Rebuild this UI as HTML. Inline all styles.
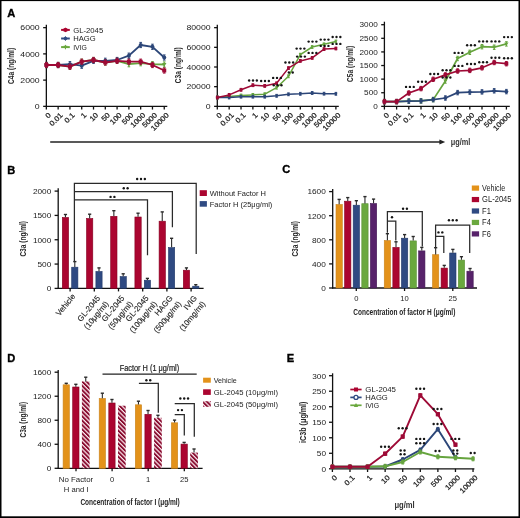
<!DOCTYPE html>
<html><head><meta charset="utf-8"><title>Figure</title>
<style>
html,body{margin:0;padding:0;background:#fff;}
body{width:520px;height:518px;overflow:hidden;}
svg{display:block;font-family:"Liberation Sans",sans-serif;will-change:transform;}
</style></head><body>
<svg width="520" height="518" viewBox="0 0 520 518">
<defs>
<pattern id="hatch" patternUnits="userSpaceOnUse" width="3.08" height="3.08" patternTransform="rotate(-45)">
<rect x="0" y="0" width="3.08" height="3.08" fill="#fbe6ec"/>
<rect x="0" y="0" width="1.85" height="3.08" fill="#870a2e"/>
</pattern>
</defs>
<rect x="0" y="0" width="520" height="518" fill="#fff"/>
<rect x="0" y="0" width="520" height="1.1" fill="#000"/>
<rect x="0" y="0" width="1.5" height="518" fill="#000"/>
<rect x="518.5" y="0" width="1.5" height="518" fill="#000"/>
<rect x="0" y="516.3" width="520" height="1.7" fill="#000"/>
<text x="7.2" y="17" font-size="11.1" fill="#000" stroke="#000" stroke-width="0.35" font-weight="bold">A</text>
<text x="7.2" y="173.6" font-size="11.1" fill="#000" stroke="#000" stroke-width="0.35" font-weight="bold">B</text>
<text x="282.2" y="173.2" font-size="11.1" fill="#000" stroke="#000" stroke-width="0.35" font-weight="bold">C</text>
<text x="7.2" y="361.9" font-size="11.1" fill="#000" stroke="#000" stroke-width="0.35" font-weight="bold">D</text>
<text x="286.8" y="361.9" font-size="11.1" fill="#000" stroke="#000" stroke-width="0.35" font-weight="bold">E</text>
<line x1="46.35" y1="24.65" x2="46.35" y2="106.95" stroke="#111" stroke-width="1.3"/>
<line x1="45.75" y1="106.35" x2="167.3" y2="106.35" stroke="#111" stroke-width="1.3"/>
<line x1="43.15" y1="106.35" x2="46.35" y2="106.35" stroke="#111" stroke-width="1.3"/>
<text x="39.75" y="109.16" font-size="7.8" fill="#222" text-anchor="end" textLength="4.86" lengthAdjust="spacingAndGlyphs">0</text>
<line x1="43.15" y1="80.12" x2="46.35" y2="80.12" stroke="#111" stroke-width="1.3"/>
<text x="39.75" y="82.92" font-size="7.8" fill="#222" text-anchor="end" textLength="19.43" lengthAdjust="spacingAndGlyphs">2000</text>
<line x1="43.15" y1="53.88" x2="46.35" y2="53.88" stroke="#111" stroke-width="1.3"/>
<text x="39.75" y="56.69" font-size="7.8" fill="#222" text-anchor="end" textLength="19.43" lengthAdjust="spacingAndGlyphs">4000</text>
<line x1="43.15" y1="27.65" x2="46.35" y2="27.65" stroke="#111" stroke-width="1.3"/>
<text x="39.75" y="30.46" font-size="7.8" fill="#222" text-anchor="end" textLength="19.43" lengthAdjust="spacingAndGlyphs">6000</text>
<line x1="46.35" y1="106.35" x2="46.35" y2="109.55" stroke="#111" stroke-width="1.3"/>
<line x1="58.14" y1="106.35" x2="58.14" y2="109.55" stroke="#111" stroke-width="1.3"/>
<line x1="69.93" y1="106.35" x2="69.93" y2="109.55" stroke="#111" stroke-width="1.3"/>
<line x1="81.72" y1="106.35" x2="81.72" y2="109.55" stroke="#111" stroke-width="1.3"/>
<line x1="93.51" y1="106.35" x2="93.51" y2="109.55" stroke="#111" stroke-width="1.3"/>
<line x1="105.3" y1="106.35" x2="105.3" y2="109.55" stroke="#111" stroke-width="1.3"/>
<line x1="117.09" y1="106.35" x2="117.09" y2="109.55" stroke="#111" stroke-width="1.3"/>
<line x1="128.88" y1="106.35" x2="128.88" y2="109.55" stroke="#111" stroke-width="1.3"/>
<line x1="140.67" y1="106.35" x2="140.67" y2="109.55" stroke="#111" stroke-width="1.3"/>
<line x1="152.46" y1="106.35" x2="152.46" y2="109.55" stroke="#111" stroke-width="1.3"/>
<line x1="164.25" y1="106.35" x2="164.25" y2="109.55" stroke="#111" stroke-width="1.3"/>
<text transform="translate(51.45,115.65) rotate(-45)" font-size="7.2" fill="#222" stroke="#222" stroke-width="0.25" text-anchor="end" textLength="4.4" lengthAdjust="spacingAndGlyphs">0</text>
<text transform="translate(63.24,115.65) rotate(-45)" font-size="7.2" fill="#222" stroke="#222" stroke-width="0.25" text-anchor="end" textLength="15.41" lengthAdjust="spacingAndGlyphs">0.01</text>
<text transform="translate(75.03,115.65) rotate(-45)" font-size="7.2" fill="#222" stroke="#222" stroke-width="0.25" text-anchor="end" textLength="11.01" lengthAdjust="spacingAndGlyphs">0.1</text>
<text transform="translate(86.82,115.65) rotate(-45)" font-size="7.2" fill="#222" stroke="#222" stroke-width="0.25" text-anchor="end" textLength="4.4" lengthAdjust="spacingAndGlyphs">1</text>
<text transform="translate(98.61,115.65) rotate(-45)" font-size="7.2" fill="#222" stroke="#222" stroke-width="0.25" text-anchor="end" textLength="8.81" lengthAdjust="spacingAndGlyphs">10</text>
<text transform="translate(110.4,115.65) rotate(-45)" font-size="7.2" fill="#222" stroke="#222" stroke-width="0.25" text-anchor="end" textLength="8.81" lengthAdjust="spacingAndGlyphs">50</text>
<text transform="translate(122.19,115.65) rotate(-45)" font-size="7.2" fill="#222" stroke="#222" stroke-width="0.25" text-anchor="end" textLength="13.21" lengthAdjust="spacingAndGlyphs">100</text>
<text transform="translate(133.98,115.65) rotate(-45)" font-size="7.2" fill="#222" stroke="#222" stroke-width="0.25" text-anchor="end" textLength="13.21" lengthAdjust="spacingAndGlyphs">500</text>
<text transform="translate(145.77,115.65) rotate(-45)" font-size="7.2" fill="#222" stroke="#222" stroke-width="0.25" text-anchor="end" textLength="17.61" lengthAdjust="spacingAndGlyphs">1000</text>
<text transform="translate(157.56,115.65) rotate(-45)" font-size="7.2" fill="#222" stroke="#222" stroke-width="0.25" text-anchor="end" textLength="17.61" lengthAdjust="spacingAndGlyphs">5000</text>
<text transform="translate(169.35,115.65) rotate(-45)" font-size="7.2" fill="#222" stroke="#222" stroke-width="0.25" text-anchor="end" textLength="22.02" lengthAdjust="spacingAndGlyphs">10000</text>
<text transform="translate(14.4,65.9) rotate(-90)" font-size="8.4" fill="#2a2a2a" text-anchor="middle" font-weight="bold" textLength="36" lengthAdjust="spacingAndGlyphs">C4a (ng/ml)</text>
<polyline points="46.35,65 58.14,65 69.93,66.7 81.72,61.7 93.51,60 105.3,62.5 117.09,60.8 128.88,64.2 140.67,63.2 152.46,64.2 164.25,64.5" fill="none" stroke="#66a43e" stroke-width="1.8" stroke-linejoin="round"/>
<line x1="46.35" y1="62.4" x2="46.35" y2="67.6" stroke="#66a43e" stroke-width="1.1"/>
<line x1="45.05" y1="62.4" x2="47.65" y2="62.4" stroke="#66a43e" stroke-width="1"/>
<line x1="45.05" y1="67.6" x2="47.65" y2="67.6" stroke="#66a43e" stroke-width="1"/>
<polygon points="44.15,63.4 48.55,63.4 46.35,67.2" fill="#66a43e"/>
<line x1="58.14" y1="62.4" x2="58.14" y2="67.6" stroke="#66a43e" stroke-width="1.1"/>
<line x1="56.84" y1="62.4" x2="59.44" y2="62.4" stroke="#66a43e" stroke-width="1"/>
<line x1="56.84" y1="67.6" x2="59.44" y2="67.6" stroke="#66a43e" stroke-width="1"/>
<polygon points="55.94,63.4 60.34,63.4 58.14,67.2" fill="#66a43e"/>
<line x1="69.93" y1="64.1" x2="69.93" y2="69.3" stroke="#66a43e" stroke-width="1.1"/>
<line x1="68.63" y1="64.1" x2="71.23" y2="64.1" stroke="#66a43e" stroke-width="1"/>
<line x1="68.63" y1="69.3" x2="71.23" y2="69.3" stroke="#66a43e" stroke-width="1"/>
<polygon points="67.73,65.1 72.13,65.1 69.93,68.9" fill="#66a43e"/>
<line x1="81.72" y1="59.1" x2="81.72" y2="64.3" stroke="#66a43e" stroke-width="1.1"/>
<line x1="80.42" y1="59.1" x2="83.02" y2="59.1" stroke="#66a43e" stroke-width="1"/>
<line x1="80.42" y1="64.3" x2="83.02" y2="64.3" stroke="#66a43e" stroke-width="1"/>
<polygon points="79.52,60.1 83.92,60.1 81.72,63.9" fill="#66a43e"/>
<line x1="93.51" y1="57.4" x2="93.51" y2="62.6" stroke="#66a43e" stroke-width="1.1"/>
<line x1="92.21" y1="57.4" x2="94.81" y2="57.4" stroke="#66a43e" stroke-width="1"/>
<line x1="92.21" y1="62.6" x2="94.81" y2="62.6" stroke="#66a43e" stroke-width="1"/>
<polygon points="91.31,58.4 95.71,58.4 93.51,62.2" fill="#66a43e"/>
<line x1="105.3" y1="59.9" x2="105.3" y2="65.1" stroke="#66a43e" stroke-width="1.1"/>
<line x1="104" y1="59.9" x2="106.6" y2="59.9" stroke="#66a43e" stroke-width="1"/>
<line x1="104" y1="65.1" x2="106.6" y2="65.1" stroke="#66a43e" stroke-width="1"/>
<polygon points="103.1,60.9 107.5,60.9 105.3,64.7" fill="#66a43e"/>
<line x1="117.09" y1="58.2" x2="117.09" y2="63.4" stroke="#66a43e" stroke-width="1.1"/>
<line x1="115.79" y1="58.2" x2="118.39" y2="58.2" stroke="#66a43e" stroke-width="1"/>
<line x1="115.79" y1="63.4" x2="118.39" y2="63.4" stroke="#66a43e" stroke-width="1"/>
<polygon points="114.89,59.2 119.29,59.2 117.09,63" fill="#66a43e"/>
<line x1="128.88" y1="61.6" x2="128.88" y2="66.8" stroke="#66a43e" stroke-width="1.1"/>
<line x1="127.58" y1="61.6" x2="130.18" y2="61.6" stroke="#66a43e" stroke-width="1"/>
<line x1="127.58" y1="66.8" x2="130.18" y2="66.8" stroke="#66a43e" stroke-width="1"/>
<polygon points="126.68,62.6 131.08,62.6 128.88,66.4" fill="#66a43e"/>
<line x1="140.67" y1="60.6" x2="140.67" y2="65.8" stroke="#66a43e" stroke-width="1.1"/>
<line x1="139.37" y1="60.6" x2="141.97" y2="60.6" stroke="#66a43e" stroke-width="1"/>
<line x1="139.37" y1="65.8" x2="141.97" y2="65.8" stroke="#66a43e" stroke-width="1"/>
<polygon points="138.47,61.6 142.87,61.6 140.67,65.4" fill="#66a43e"/>
<line x1="152.46" y1="61.6" x2="152.46" y2="66.8" stroke="#66a43e" stroke-width="1.1"/>
<line x1="151.16" y1="61.6" x2="153.76" y2="61.6" stroke="#66a43e" stroke-width="1"/>
<line x1="151.16" y1="66.8" x2="153.76" y2="66.8" stroke="#66a43e" stroke-width="1"/>
<polygon points="150.26,62.6 154.66,62.6 152.46,66.4" fill="#66a43e"/>
<line x1="164.25" y1="61.9" x2="164.25" y2="67.1" stroke="#66a43e" stroke-width="1.1"/>
<line x1="162.95" y1="61.9" x2="165.55" y2="61.9" stroke="#66a43e" stroke-width="1"/>
<line x1="162.95" y1="67.1" x2="165.55" y2="67.1" stroke="#66a43e" stroke-width="1"/>
<polygon points="162.05,62.9 166.45,62.9 164.25,66.7" fill="#66a43e"/>
<polyline points="46.35,65 58.14,65 69.93,64.2 81.72,65.7 93.51,60.8 105.3,60.8 117.09,60 128.88,55.7 140.67,45 152.46,46.8 164.25,57.5" fill="none" stroke="#2c4678" stroke-width="1.8" stroke-linejoin="round"/>
<line x1="46.35" y1="62.4" x2="46.35" y2="67.6" stroke="#2c4678" stroke-width="1.1"/>
<line x1="45.05" y1="62.4" x2="47.65" y2="62.4" stroke="#2c4678" stroke-width="1"/>
<line x1="45.05" y1="67.6" x2="47.65" y2="67.6" stroke="#2c4678" stroke-width="1"/>
<circle cx="46.35" cy="65" r="2" fill="#2c4678"/>
<line x1="58.14" y1="62.4" x2="58.14" y2="67.6" stroke="#2c4678" stroke-width="1.1"/>
<line x1="56.84" y1="62.4" x2="59.44" y2="62.4" stroke="#2c4678" stroke-width="1"/>
<line x1="56.84" y1="67.6" x2="59.44" y2="67.6" stroke="#2c4678" stroke-width="1"/>
<circle cx="58.14" cy="65" r="2" fill="#2c4678"/>
<line x1="69.93" y1="61.6" x2="69.93" y2="66.8" stroke="#2c4678" stroke-width="1.1"/>
<line x1="68.63" y1="61.6" x2="71.23" y2="61.6" stroke="#2c4678" stroke-width="1"/>
<line x1="68.63" y1="66.8" x2="71.23" y2="66.8" stroke="#2c4678" stroke-width="1"/>
<circle cx="69.93" cy="64.2" r="2" fill="#2c4678"/>
<line x1="81.72" y1="63.1" x2="81.72" y2="68.3" stroke="#2c4678" stroke-width="1.1"/>
<line x1="80.42" y1="63.1" x2="83.02" y2="63.1" stroke="#2c4678" stroke-width="1"/>
<line x1="80.42" y1="68.3" x2="83.02" y2="68.3" stroke="#2c4678" stroke-width="1"/>
<circle cx="81.72" cy="65.7" r="2" fill="#2c4678"/>
<line x1="93.51" y1="58.2" x2="93.51" y2="63.4" stroke="#2c4678" stroke-width="1.1"/>
<line x1="92.21" y1="58.2" x2="94.81" y2="58.2" stroke="#2c4678" stroke-width="1"/>
<line x1="92.21" y1="63.4" x2="94.81" y2="63.4" stroke="#2c4678" stroke-width="1"/>
<circle cx="93.51" cy="60.8" r="2" fill="#2c4678"/>
<line x1="105.3" y1="58.2" x2="105.3" y2="63.4" stroke="#2c4678" stroke-width="1.1"/>
<line x1="104" y1="58.2" x2="106.6" y2="58.2" stroke="#2c4678" stroke-width="1"/>
<line x1="104" y1="63.4" x2="106.6" y2="63.4" stroke="#2c4678" stroke-width="1"/>
<circle cx="105.3" cy="60.8" r="2" fill="#2c4678"/>
<line x1="117.09" y1="57.4" x2="117.09" y2="62.6" stroke="#2c4678" stroke-width="1.1"/>
<line x1="115.79" y1="57.4" x2="118.39" y2="57.4" stroke="#2c4678" stroke-width="1"/>
<line x1="115.79" y1="62.6" x2="118.39" y2="62.6" stroke="#2c4678" stroke-width="1"/>
<circle cx="117.09" cy="60" r="2" fill="#2c4678"/>
<line x1="128.88" y1="53.1" x2="128.88" y2="58.3" stroke="#2c4678" stroke-width="1.1"/>
<line x1="127.58" y1="53.1" x2="130.18" y2="53.1" stroke="#2c4678" stroke-width="1"/>
<line x1="127.58" y1="58.3" x2="130.18" y2="58.3" stroke="#2c4678" stroke-width="1"/>
<circle cx="128.88" cy="55.7" r="2" fill="#2c4678"/>
<line x1="140.67" y1="42.4" x2="140.67" y2="47.6" stroke="#2c4678" stroke-width="1.1"/>
<line x1="139.37" y1="42.4" x2="141.97" y2="42.4" stroke="#2c4678" stroke-width="1"/>
<line x1="139.37" y1="47.6" x2="141.97" y2="47.6" stroke="#2c4678" stroke-width="1"/>
<circle cx="140.67" cy="45" r="2" fill="#2c4678"/>
<line x1="152.46" y1="44.2" x2="152.46" y2="49.4" stroke="#2c4678" stroke-width="1.1"/>
<line x1="151.16" y1="44.2" x2="153.76" y2="44.2" stroke="#2c4678" stroke-width="1"/>
<line x1="151.16" y1="49.4" x2="153.76" y2="49.4" stroke="#2c4678" stroke-width="1"/>
<circle cx="152.46" cy="46.8" r="2" fill="#2c4678"/>
<line x1="164.25" y1="54.9" x2="164.25" y2="60.1" stroke="#2c4678" stroke-width="1.1"/>
<line x1="162.95" y1="54.9" x2="165.55" y2="54.9" stroke="#2c4678" stroke-width="1"/>
<line x1="162.95" y1="60.1" x2="165.55" y2="60.1" stroke="#2c4678" stroke-width="1"/>
<circle cx="164.25" cy="57.5" r="2" fill="#2c4678"/>
<polyline points="46.35,65 58.14,65 69.93,66.7 81.72,61.7 93.51,60 105.3,62.5 117.09,60.8 128.88,61.7 140.67,61.7 152.46,65 164.25,70.5" fill="none" stroke="#9e0a36" stroke-width="1.8" stroke-linejoin="round"/>
<line x1="46.35" y1="62.4" x2="46.35" y2="67.6" stroke="#9e0a36" stroke-width="1.1"/>
<line x1="45.05" y1="62.4" x2="47.65" y2="62.4" stroke="#9e0a36" stroke-width="1"/>
<line x1="45.05" y1="67.6" x2="47.65" y2="67.6" stroke="#9e0a36" stroke-width="1"/>
<rect x="44.35" y="63" width="4" height="4" fill="#9e0a36"/>
<line x1="58.14" y1="62.4" x2="58.14" y2="67.6" stroke="#9e0a36" stroke-width="1.1"/>
<line x1="56.84" y1="62.4" x2="59.44" y2="62.4" stroke="#9e0a36" stroke-width="1"/>
<line x1="56.84" y1="67.6" x2="59.44" y2="67.6" stroke="#9e0a36" stroke-width="1"/>
<rect x="56.14" y="63" width="4" height="4" fill="#9e0a36"/>
<line x1="69.93" y1="64.1" x2="69.93" y2="69.3" stroke="#9e0a36" stroke-width="1.1"/>
<line x1="68.63" y1="64.1" x2="71.23" y2="64.1" stroke="#9e0a36" stroke-width="1"/>
<line x1="68.63" y1="69.3" x2="71.23" y2="69.3" stroke="#9e0a36" stroke-width="1"/>
<rect x="67.93" y="64.7" width="4" height="4" fill="#9e0a36"/>
<line x1="81.72" y1="59.1" x2="81.72" y2="64.3" stroke="#9e0a36" stroke-width="1.1"/>
<line x1="80.42" y1="59.1" x2="83.02" y2="59.1" stroke="#9e0a36" stroke-width="1"/>
<line x1="80.42" y1="64.3" x2="83.02" y2="64.3" stroke="#9e0a36" stroke-width="1"/>
<rect x="79.72" y="59.7" width="4" height="4" fill="#9e0a36"/>
<line x1="93.51" y1="57.4" x2="93.51" y2="62.6" stroke="#9e0a36" stroke-width="1.1"/>
<line x1="92.21" y1="57.4" x2="94.81" y2="57.4" stroke="#9e0a36" stroke-width="1"/>
<line x1="92.21" y1="62.6" x2="94.81" y2="62.6" stroke="#9e0a36" stroke-width="1"/>
<rect x="91.51" y="58" width="4" height="4" fill="#9e0a36"/>
<line x1="105.3" y1="59.9" x2="105.3" y2="65.1" stroke="#9e0a36" stroke-width="1.1"/>
<line x1="104" y1="59.9" x2="106.6" y2="59.9" stroke="#9e0a36" stroke-width="1"/>
<line x1="104" y1="65.1" x2="106.6" y2="65.1" stroke="#9e0a36" stroke-width="1"/>
<rect x="103.3" y="60.5" width="4" height="4" fill="#9e0a36"/>
<line x1="117.09" y1="58.2" x2="117.09" y2="63.4" stroke="#9e0a36" stroke-width="1.1"/>
<line x1="115.79" y1="58.2" x2="118.39" y2="58.2" stroke="#9e0a36" stroke-width="1"/>
<line x1="115.79" y1="63.4" x2="118.39" y2="63.4" stroke="#9e0a36" stroke-width="1"/>
<rect x="115.09" y="58.8" width="4" height="4" fill="#9e0a36"/>
<line x1="128.88" y1="59.1" x2="128.88" y2="64.3" stroke="#9e0a36" stroke-width="1.1"/>
<line x1="127.58" y1="59.1" x2="130.18" y2="59.1" stroke="#9e0a36" stroke-width="1"/>
<line x1="127.58" y1="64.3" x2="130.18" y2="64.3" stroke="#9e0a36" stroke-width="1"/>
<rect x="126.88" y="59.7" width="4" height="4" fill="#9e0a36"/>
<line x1="140.67" y1="59.1" x2="140.67" y2="64.3" stroke="#9e0a36" stroke-width="1.1"/>
<line x1="139.37" y1="59.1" x2="141.97" y2="59.1" stroke="#9e0a36" stroke-width="1"/>
<line x1="139.37" y1="64.3" x2="141.97" y2="64.3" stroke="#9e0a36" stroke-width="1"/>
<rect x="138.67" y="59.7" width="4" height="4" fill="#9e0a36"/>
<line x1="152.46" y1="62.4" x2="152.46" y2="67.6" stroke="#9e0a36" stroke-width="1.1"/>
<line x1="151.16" y1="62.4" x2="153.76" y2="62.4" stroke="#9e0a36" stroke-width="1"/>
<line x1="151.16" y1="67.6" x2="153.76" y2="67.6" stroke="#9e0a36" stroke-width="1"/>
<rect x="150.46" y="63" width="4" height="4" fill="#9e0a36"/>
<line x1="164.25" y1="67.9" x2="164.25" y2="73.1" stroke="#9e0a36" stroke-width="1.1"/>
<line x1="162.95" y1="67.9" x2="165.55" y2="67.9" stroke="#9e0a36" stroke-width="1"/>
<line x1="162.95" y1="73.1" x2="165.55" y2="73.1" stroke="#9e0a36" stroke-width="1"/>
<rect x="162.25" y="68.5" width="4" height="4" fill="#9e0a36"/>
<line x1="61.1" y1="29.9" x2="69.8" y2="29.9" stroke="#ab0530" stroke-width="2"/>
<rect x="63.65" y="28.1" width="3.6" height="3.6" fill="#ab0530"/>
<line x1="65.45" y1="27.7" x2="65.45" y2="32.1" stroke="#ab0530" stroke-width="1"/>
<text x="73.2" y="32.6" font-size="7.7" fill="#222" textLength="30" lengthAdjust="spacingAndGlyphs">GL-2045</text>
<line x1="61.1" y1="38.5" x2="69.8" y2="38.5" stroke="#2f4a82" stroke-width="2"/>
<circle cx="65.45" cy="38.5" r="1.8" fill="#2f4a82"/>
<line x1="65.45" y1="36.3" x2="65.45" y2="40.7" stroke="#2f4a82" stroke-width="1"/>
<text x="73.2" y="41.2" font-size="7.7" fill="#222" textLength="22.5" lengthAdjust="spacingAndGlyphs">HAGG</text>
<line x1="61.1" y1="47.1" x2="69.8" y2="47.1" stroke="#6aa83e" stroke-width="2"/>
<polygon points="63.47,45.66 67.43,45.66 65.45,49.08" fill="#6aa83e"/>
<line x1="65.45" y1="44.9" x2="65.45" y2="49.3" stroke="#6aa83e" stroke-width="1"/>
<text x="73.2" y="49.8" font-size="7.7" fill="#222" textLength="13.8" lengthAdjust="spacingAndGlyphs">IVIG</text>
<line x1="217.3" y1="24.65" x2="217.3" y2="106.95" stroke="#111" stroke-width="1.3"/>
<line x1="216.7" y1="106.35" x2="338.8" y2="106.35" stroke="#111" stroke-width="1.3"/>
<line x1="214.1" y1="106.35" x2="217.3" y2="106.35" stroke="#111" stroke-width="1.3"/>
<text x="210.7" y="109.16" font-size="7.8" fill="#222" text-anchor="end" textLength="4.86" lengthAdjust="spacingAndGlyphs">0</text>
<line x1="214.1" y1="86.67" x2="217.3" y2="86.67" stroke="#111" stroke-width="1.3"/>
<text x="210.7" y="89.48" font-size="7.8" fill="#222" text-anchor="end" textLength="24.29" lengthAdjust="spacingAndGlyphs">20000</text>
<line x1="214.1" y1="67" x2="217.3" y2="67" stroke="#111" stroke-width="1.3"/>
<text x="210.7" y="69.81" font-size="7.8" fill="#222" text-anchor="end" textLength="24.29" lengthAdjust="spacingAndGlyphs">40000</text>
<line x1="214.1" y1="47.33" x2="217.3" y2="47.33" stroke="#111" stroke-width="1.3"/>
<text x="210.7" y="50.13" font-size="7.8" fill="#222" text-anchor="end" textLength="24.29" lengthAdjust="spacingAndGlyphs">60000</text>
<line x1="214.1" y1="27.65" x2="217.3" y2="27.65" stroke="#111" stroke-width="1.3"/>
<text x="210.7" y="30.46" font-size="7.8" fill="#222" text-anchor="end" textLength="24.29" lengthAdjust="spacingAndGlyphs">80000</text>
<line x1="217.3" y1="106.35" x2="217.3" y2="109.55" stroke="#111" stroke-width="1.3"/>
<line x1="229.16" y1="106.35" x2="229.16" y2="109.55" stroke="#111" stroke-width="1.3"/>
<line x1="241.02" y1="106.35" x2="241.02" y2="109.55" stroke="#111" stroke-width="1.3"/>
<line x1="252.88" y1="106.35" x2="252.88" y2="109.55" stroke="#111" stroke-width="1.3"/>
<line x1="264.74" y1="106.35" x2="264.74" y2="109.55" stroke="#111" stroke-width="1.3"/>
<line x1="276.6" y1="106.35" x2="276.6" y2="109.55" stroke="#111" stroke-width="1.3"/>
<line x1="288.46" y1="106.35" x2="288.46" y2="109.55" stroke="#111" stroke-width="1.3"/>
<line x1="300.32" y1="106.35" x2="300.32" y2="109.55" stroke="#111" stroke-width="1.3"/>
<line x1="312.18" y1="106.35" x2="312.18" y2="109.55" stroke="#111" stroke-width="1.3"/>
<line x1="324.04" y1="106.35" x2="324.04" y2="109.55" stroke="#111" stroke-width="1.3"/>
<line x1="335.9" y1="106.35" x2="335.9" y2="109.55" stroke="#111" stroke-width="1.3"/>
<text transform="translate(222.4,115.65) rotate(-45)" font-size="7.2" fill="#222" stroke="#222" stroke-width="0.25" text-anchor="end" textLength="4.4" lengthAdjust="spacingAndGlyphs">0</text>
<text transform="translate(234.26,115.65) rotate(-45)" font-size="7.2" fill="#222" stroke="#222" stroke-width="0.25" text-anchor="end" textLength="15.41" lengthAdjust="spacingAndGlyphs">0.01</text>
<text transform="translate(246.12,115.65) rotate(-45)" font-size="7.2" fill="#222" stroke="#222" stroke-width="0.25" text-anchor="end" textLength="11.01" lengthAdjust="spacingAndGlyphs">0.1</text>
<text transform="translate(257.98,115.65) rotate(-45)" font-size="7.2" fill="#222" stroke="#222" stroke-width="0.25" text-anchor="end" textLength="4.4" lengthAdjust="spacingAndGlyphs">1</text>
<text transform="translate(269.84,115.65) rotate(-45)" font-size="7.2" fill="#222" stroke="#222" stroke-width="0.25" text-anchor="end" textLength="8.81" lengthAdjust="spacingAndGlyphs">10</text>
<text transform="translate(281.7,115.65) rotate(-45)" font-size="7.2" fill="#222" stroke="#222" stroke-width="0.25" text-anchor="end" textLength="8.81" lengthAdjust="spacingAndGlyphs">50</text>
<text transform="translate(293.56,115.65) rotate(-45)" font-size="7.2" fill="#222" stroke="#222" stroke-width="0.25" text-anchor="end" textLength="13.21" lengthAdjust="spacingAndGlyphs">100</text>
<text transform="translate(305.42,115.65) rotate(-45)" font-size="7.2" fill="#222" stroke="#222" stroke-width="0.25" text-anchor="end" textLength="13.21" lengthAdjust="spacingAndGlyphs">500</text>
<text transform="translate(317.28,115.65) rotate(-45)" font-size="7.2" fill="#222" stroke="#222" stroke-width="0.25" text-anchor="end" textLength="17.61" lengthAdjust="spacingAndGlyphs">1000</text>
<text transform="translate(329.14,115.65) rotate(-45)" font-size="7.2" fill="#222" stroke="#222" stroke-width="0.25" text-anchor="end" textLength="17.61" lengthAdjust="spacingAndGlyphs">5000</text>
<text transform="translate(341,115.65) rotate(-45)" font-size="7.2" fill="#222" stroke="#222" stroke-width="0.25" text-anchor="end" textLength="22.02" lengthAdjust="spacingAndGlyphs">10000</text>
<text transform="translate(181.3,65.2) rotate(-90)" font-size="8.4" fill="#2a2a2a" text-anchor="middle" font-weight="bold" textLength="36" lengthAdjust="spacingAndGlyphs">C3a (ng/ml)</text>
<polyline points="217.3,97.5 229.16,96.4 241.02,95.5 252.88,94.9 264.74,94.2 276.6,87.7 288.46,76.3 300.32,54.7 312.18,47 324.04,44.3 335.9,41.5" fill="none" stroke="#66a43e" stroke-width="1.5" stroke-linejoin="round"/>
<line x1="217.3" y1="96.1" x2="217.3" y2="98.9" stroke="#66a43e" stroke-width="1.1"/>
<line x1="216" y1="96.1" x2="218.6" y2="96.1" stroke="#66a43e" stroke-width="1"/>
<line x1="216" y1="98.9" x2="218.6" y2="98.9" stroke="#66a43e" stroke-width="1"/>
<polygon points="215.76,96.38 218.84,96.38 217.3,99.04" fill="#66a43e"/>
<line x1="229.16" y1="95" x2="229.16" y2="97.8" stroke="#66a43e" stroke-width="1.1"/>
<line x1="227.86" y1="95" x2="230.46" y2="95" stroke="#66a43e" stroke-width="1"/>
<line x1="227.86" y1="97.8" x2="230.46" y2="97.8" stroke="#66a43e" stroke-width="1"/>
<polygon points="227.62,95.28 230.7,95.28 229.16,97.94" fill="#66a43e"/>
<line x1="241.02" y1="94.1" x2="241.02" y2="96.9" stroke="#66a43e" stroke-width="1.1"/>
<line x1="239.72" y1="94.1" x2="242.32" y2="94.1" stroke="#66a43e" stroke-width="1"/>
<line x1="239.72" y1="96.9" x2="242.32" y2="96.9" stroke="#66a43e" stroke-width="1"/>
<polygon points="239.48,94.38 242.56,94.38 241.02,97.04" fill="#66a43e"/>
<line x1="252.88" y1="93.5" x2="252.88" y2="96.3" stroke="#66a43e" stroke-width="1.1"/>
<line x1="251.58" y1="93.5" x2="254.18" y2="93.5" stroke="#66a43e" stroke-width="1"/>
<line x1="251.58" y1="96.3" x2="254.18" y2="96.3" stroke="#66a43e" stroke-width="1"/>
<polygon points="251.34,93.78 254.42,93.78 252.88,96.44" fill="#66a43e"/>
<line x1="264.74" y1="92.8" x2="264.74" y2="95.6" stroke="#66a43e" stroke-width="1.1"/>
<line x1="263.44" y1="92.8" x2="266.04" y2="92.8" stroke="#66a43e" stroke-width="1"/>
<line x1="263.44" y1="95.6" x2="266.04" y2="95.6" stroke="#66a43e" stroke-width="1"/>
<polygon points="263.2,93.08 266.28,93.08 264.74,95.74" fill="#66a43e"/>
<line x1="276.6" y1="86.3" x2="276.6" y2="89.1" stroke="#66a43e" stroke-width="1.1"/>
<line x1="275.3" y1="86.3" x2="277.9" y2="86.3" stroke="#66a43e" stroke-width="1"/>
<line x1="275.3" y1="89.1" x2="277.9" y2="89.1" stroke="#66a43e" stroke-width="1"/>
<polygon points="275.06,86.58 278.14,86.58 276.6,89.24" fill="#66a43e"/>
<line x1="288.46" y1="74.9" x2="288.46" y2="77.7" stroke="#66a43e" stroke-width="1.1"/>
<line x1="287.16" y1="74.9" x2="289.76" y2="74.9" stroke="#66a43e" stroke-width="1"/>
<line x1="287.16" y1="77.7" x2="289.76" y2="77.7" stroke="#66a43e" stroke-width="1"/>
<polygon points="286.92,75.18 290,75.18 288.46,77.84" fill="#66a43e"/>
<line x1="300.32" y1="53.3" x2="300.32" y2="56.1" stroke="#66a43e" stroke-width="1.1"/>
<line x1="299.02" y1="53.3" x2="301.62" y2="53.3" stroke="#66a43e" stroke-width="1"/>
<line x1="299.02" y1="56.1" x2="301.62" y2="56.1" stroke="#66a43e" stroke-width="1"/>
<polygon points="298.78,53.58 301.86,53.58 300.32,56.24" fill="#66a43e"/>
<line x1="312.18" y1="45.6" x2="312.18" y2="48.4" stroke="#66a43e" stroke-width="1.1"/>
<line x1="310.88" y1="45.6" x2="313.48" y2="45.6" stroke="#66a43e" stroke-width="1"/>
<line x1="310.88" y1="48.4" x2="313.48" y2="48.4" stroke="#66a43e" stroke-width="1"/>
<polygon points="310.64,45.88 313.72,45.88 312.18,48.54" fill="#66a43e"/>
<line x1="324.04" y1="42.9" x2="324.04" y2="45.7" stroke="#66a43e" stroke-width="1.1"/>
<line x1="322.74" y1="42.9" x2="325.34" y2="42.9" stroke="#66a43e" stroke-width="1"/>
<line x1="322.74" y1="45.7" x2="325.34" y2="45.7" stroke="#66a43e" stroke-width="1"/>
<polygon points="322.5,43.18 325.58,43.18 324.04,45.84" fill="#66a43e"/>
<line x1="335.9" y1="40.1" x2="335.9" y2="42.9" stroke="#66a43e" stroke-width="1.1"/>
<line x1="334.6" y1="40.1" x2="337.2" y2="40.1" stroke="#66a43e" stroke-width="1"/>
<line x1="334.6" y1="42.9" x2="337.2" y2="42.9" stroke="#66a43e" stroke-width="1"/>
<polygon points="334.36,40.38 337.44,40.38 335.9,43.04" fill="#66a43e"/>
<polyline points="217.3,97.5 229.16,97.5 241.02,96.7 252.88,96.7 264.74,96.7 276.6,95.8 288.46,94.3 300.32,93.8 312.18,93 324.04,93.7 335.9,93.8" fill="none" stroke="#2c4678" stroke-width="1.5" stroke-linejoin="round"/>
<line x1="217.3" y1="96.1" x2="217.3" y2="98.9" stroke="#2c4678" stroke-width="1.1"/>
<line x1="216" y1="96.1" x2="218.6" y2="96.1" stroke="#2c4678" stroke-width="1"/>
<line x1="216" y1="98.9" x2="218.6" y2="98.9" stroke="#2c4678" stroke-width="1"/>
<circle cx="217.3" cy="97.5" r="1.4" fill="#2c4678"/>
<line x1="229.16" y1="96.1" x2="229.16" y2="98.9" stroke="#2c4678" stroke-width="1.1"/>
<line x1="227.86" y1="96.1" x2="230.46" y2="96.1" stroke="#2c4678" stroke-width="1"/>
<line x1="227.86" y1="98.9" x2="230.46" y2="98.9" stroke="#2c4678" stroke-width="1"/>
<circle cx="229.16" cy="97.5" r="1.4" fill="#2c4678"/>
<line x1="241.02" y1="95.3" x2="241.02" y2="98.1" stroke="#2c4678" stroke-width="1.1"/>
<line x1="239.72" y1="95.3" x2="242.32" y2="95.3" stroke="#2c4678" stroke-width="1"/>
<line x1="239.72" y1="98.1" x2="242.32" y2="98.1" stroke="#2c4678" stroke-width="1"/>
<circle cx="241.02" cy="96.7" r="1.4" fill="#2c4678"/>
<line x1="252.88" y1="95.3" x2="252.88" y2="98.1" stroke="#2c4678" stroke-width="1.1"/>
<line x1="251.58" y1="95.3" x2="254.18" y2="95.3" stroke="#2c4678" stroke-width="1"/>
<line x1="251.58" y1="98.1" x2="254.18" y2="98.1" stroke="#2c4678" stroke-width="1"/>
<circle cx="252.88" cy="96.7" r="1.4" fill="#2c4678"/>
<line x1="264.74" y1="95.3" x2="264.74" y2="98.1" stroke="#2c4678" stroke-width="1.1"/>
<line x1="263.44" y1="95.3" x2="266.04" y2="95.3" stroke="#2c4678" stroke-width="1"/>
<line x1="263.44" y1="98.1" x2="266.04" y2="98.1" stroke="#2c4678" stroke-width="1"/>
<circle cx="264.74" cy="96.7" r="1.4" fill="#2c4678"/>
<line x1="276.6" y1="94.4" x2="276.6" y2="97.2" stroke="#2c4678" stroke-width="1.1"/>
<line x1="275.3" y1="94.4" x2="277.9" y2="94.4" stroke="#2c4678" stroke-width="1"/>
<line x1="275.3" y1="97.2" x2="277.9" y2="97.2" stroke="#2c4678" stroke-width="1"/>
<circle cx="276.6" cy="95.8" r="1.4" fill="#2c4678"/>
<line x1="288.46" y1="92.9" x2="288.46" y2="95.7" stroke="#2c4678" stroke-width="1.1"/>
<line x1="287.16" y1="92.9" x2="289.76" y2="92.9" stroke="#2c4678" stroke-width="1"/>
<line x1="287.16" y1="95.7" x2="289.76" y2="95.7" stroke="#2c4678" stroke-width="1"/>
<circle cx="288.46" cy="94.3" r="1.4" fill="#2c4678"/>
<line x1="300.32" y1="92.4" x2="300.32" y2="95.2" stroke="#2c4678" stroke-width="1.1"/>
<line x1="299.02" y1="92.4" x2="301.62" y2="92.4" stroke="#2c4678" stroke-width="1"/>
<line x1="299.02" y1="95.2" x2="301.62" y2="95.2" stroke="#2c4678" stroke-width="1"/>
<circle cx="300.32" cy="93.8" r="1.4" fill="#2c4678"/>
<line x1="312.18" y1="91.6" x2="312.18" y2="94.4" stroke="#2c4678" stroke-width="1.1"/>
<line x1="310.88" y1="91.6" x2="313.48" y2="91.6" stroke="#2c4678" stroke-width="1"/>
<line x1="310.88" y1="94.4" x2="313.48" y2="94.4" stroke="#2c4678" stroke-width="1"/>
<circle cx="312.18" cy="93" r="1.4" fill="#2c4678"/>
<line x1="324.04" y1="92.3" x2="324.04" y2="95.1" stroke="#2c4678" stroke-width="1.1"/>
<line x1="322.74" y1="92.3" x2="325.34" y2="92.3" stroke="#2c4678" stroke-width="1"/>
<line x1="322.74" y1="95.1" x2="325.34" y2="95.1" stroke="#2c4678" stroke-width="1"/>
<circle cx="324.04" cy="93.7" r="1.4" fill="#2c4678"/>
<line x1="335.9" y1="92.4" x2="335.9" y2="95.2" stroke="#2c4678" stroke-width="1.1"/>
<line x1="334.6" y1="92.4" x2="337.2" y2="92.4" stroke="#2c4678" stroke-width="1"/>
<line x1="334.6" y1="95.2" x2="337.2" y2="95.2" stroke="#2c4678" stroke-width="1"/>
<circle cx="335.9" cy="93.8" r="1.4" fill="#2c4678"/>
<polyline points="217.3,97.5 229.16,94.9 241.02,89.8 252.88,85.2 264.74,85.9 276.6,83.3 288.46,68.1 300.32,60.9 312.18,57.9 324.04,49.1 335.9,48.5" fill="none" stroke="#9e0a36" stroke-width="1.5" stroke-linejoin="round"/>
<line x1="217.3" y1="96.1" x2="217.3" y2="98.9" stroke="#9e0a36" stroke-width="1.1"/>
<line x1="216" y1="96.1" x2="218.6" y2="96.1" stroke="#9e0a36" stroke-width="1"/>
<line x1="216" y1="98.9" x2="218.6" y2="98.9" stroke="#9e0a36" stroke-width="1"/>
<rect x="215.9" y="96.1" width="2.8" height="2.8" fill="#9e0a36"/>
<line x1="229.16" y1="93.5" x2="229.16" y2="96.3" stroke="#9e0a36" stroke-width="1.1"/>
<line x1="227.86" y1="93.5" x2="230.46" y2="93.5" stroke="#9e0a36" stroke-width="1"/>
<line x1="227.86" y1="96.3" x2="230.46" y2="96.3" stroke="#9e0a36" stroke-width="1"/>
<rect x="227.76" y="93.5" width="2.8" height="2.8" fill="#9e0a36"/>
<line x1="241.02" y1="88.4" x2="241.02" y2="91.2" stroke="#9e0a36" stroke-width="1.1"/>
<line x1="239.72" y1="88.4" x2="242.32" y2="88.4" stroke="#9e0a36" stroke-width="1"/>
<line x1="239.72" y1="91.2" x2="242.32" y2="91.2" stroke="#9e0a36" stroke-width="1"/>
<rect x="239.62" y="88.4" width="2.8" height="2.8" fill="#9e0a36"/>
<line x1="252.88" y1="83.8" x2="252.88" y2="86.6" stroke="#9e0a36" stroke-width="1.1"/>
<line x1="251.58" y1="83.8" x2="254.18" y2="83.8" stroke="#9e0a36" stroke-width="1"/>
<line x1="251.58" y1="86.6" x2="254.18" y2="86.6" stroke="#9e0a36" stroke-width="1"/>
<rect x="251.48" y="83.8" width="2.8" height="2.8" fill="#9e0a36"/>
<line x1="264.74" y1="84.5" x2="264.74" y2="87.3" stroke="#9e0a36" stroke-width="1.1"/>
<line x1="263.44" y1="84.5" x2="266.04" y2="84.5" stroke="#9e0a36" stroke-width="1"/>
<line x1="263.44" y1="87.3" x2="266.04" y2="87.3" stroke="#9e0a36" stroke-width="1"/>
<rect x="263.34" y="84.5" width="2.8" height="2.8" fill="#9e0a36"/>
<line x1="276.6" y1="81.9" x2="276.6" y2="84.7" stroke="#9e0a36" stroke-width="1.1"/>
<line x1="275.3" y1="81.9" x2="277.9" y2="81.9" stroke="#9e0a36" stroke-width="1"/>
<line x1="275.3" y1="84.7" x2="277.9" y2="84.7" stroke="#9e0a36" stroke-width="1"/>
<rect x="275.2" y="81.9" width="2.8" height="2.8" fill="#9e0a36"/>
<line x1="288.46" y1="66.7" x2="288.46" y2="69.5" stroke="#9e0a36" stroke-width="1.1"/>
<line x1="287.16" y1="66.7" x2="289.76" y2="66.7" stroke="#9e0a36" stroke-width="1"/>
<line x1="287.16" y1="69.5" x2="289.76" y2="69.5" stroke="#9e0a36" stroke-width="1"/>
<rect x="287.06" y="66.7" width="2.8" height="2.8" fill="#9e0a36"/>
<line x1="300.32" y1="59.5" x2="300.32" y2="62.3" stroke="#9e0a36" stroke-width="1.1"/>
<line x1="299.02" y1="59.5" x2="301.62" y2="59.5" stroke="#9e0a36" stroke-width="1"/>
<line x1="299.02" y1="62.3" x2="301.62" y2="62.3" stroke="#9e0a36" stroke-width="1"/>
<rect x="298.92" y="59.5" width="2.8" height="2.8" fill="#9e0a36"/>
<line x1="312.18" y1="56.5" x2="312.18" y2="59.3" stroke="#9e0a36" stroke-width="1.1"/>
<line x1="310.88" y1="56.5" x2="313.48" y2="56.5" stroke="#9e0a36" stroke-width="1"/>
<line x1="310.88" y1="59.3" x2="313.48" y2="59.3" stroke="#9e0a36" stroke-width="1"/>
<rect x="310.78" y="56.5" width="2.8" height="2.8" fill="#9e0a36"/>
<line x1="324.04" y1="47.7" x2="324.04" y2="50.5" stroke="#9e0a36" stroke-width="1.1"/>
<line x1="322.74" y1="47.7" x2="325.34" y2="47.7" stroke="#9e0a36" stroke-width="1"/>
<line x1="322.74" y1="50.5" x2="325.34" y2="50.5" stroke="#9e0a36" stroke-width="1"/>
<rect x="322.64" y="47.7" width="2.8" height="2.8" fill="#9e0a36"/>
<line x1="335.9" y1="47.1" x2="335.9" y2="49.9" stroke="#9e0a36" stroke-width="1.1"/>
<line x1="334.6" y1="47.1" x2="337.2" y2="47.1" stroke="#9e0a36" stroke-width="1"/>
<line x1="334.6" y1="49.9" x2="337.2" y2="49.9" stroke="#9e0a36" stroke-width="1"/>
<rect x="334.5" y="47.1" width="2.8" height="2.8" fill="#9e0a36"/>
<circle cx="249.15" cy="80.5" r="1.2" fill="#151515"/>
<circle cx="253" cy="80.5" r="1.2" fill="#151515"/>
<circle cx="256.85" cy="80.5" r="1.2" fill="#151515"/>
<circle cx="261.15" cy="81" r="1.2" fill="#151515"/>
<circle cx="265" cy="81" r="1.2" fill="#151515"/>
<circle cx="268.85" cy="81" r="1.2" fill="#151515"/>
<circle cx="273.15" cy="77.9" r="1.2" fill="#151515"/>
<circle cx="277" cy="77.9" r="1.2" fill="#151515"/>
<circle cx="280.85" cy="77.9" r="1.2" fill="#151515"/>
<circle cx="273.75" cy="85.3" r="1.2" fill="#151515"/>
<circle cx="277.6" cy="85.3" r="1.2" fill="#151515"/>
<circle cx="281.45" cy="85.3" r="1.2" fill="#151515"/>
<circle cx="285.45" cy="62.5" r="1.2" fill="#151515"/>
<circle cx="289.3" cy="62.5" r="1.2" fill="#151515"/>
<circle cx="293.15" cy="62.5" r="1.2" fill="#151515"/>
<circle cx="288.88" cy="72.5" r="1.2" fill="#151515"/>
<circle cx="292.73" cy="72.5" r="1.2" fill="#151515"/>
<circle cx="296.65" cy="48.6" r="1.2" fill="#151515"/>
<circle cx="300.5" cy="48.6" r="1.2" fill="#151515"/>
<circle cx="304.35" cy="48.6" r="1.2" fill="#151515"/>
<circle cx="297.15" cy="56.6" r="1.2" fill="#151515"/>
<circle cx="301" cy="56.6" r="1.2" fill="#151515"/>
<circle cx="304.85" cy="56.6" r="1.2" fill="#151515"/>
<circle cx="308.65" cy="41.6" r="1.2" fill="#151515"/>
<circle cx="312.5" cy="41.6" r="1.2" fill="#151515"/>
<circle cx="316.35" cy="41.6" r="1.2" fill="#151515"/>
<circle cx="308.65" cy="52.9" r="1.2" fill="#151515"/>
<circle cx="312.5" cy="52.9" r="1.2" fill="#151515"/>
<circle cx="316.35" cy="52.9" r="1.2" fill="#151515"/>
<circle cx="320.75" cy="39.6" r="1.2" fill="#151515"/>
<circle cx="324.6" cy="39.6" r="1.2" fill="#151515"/>
<circle cx="328.45" cy="39.6" r="1.2" fill="#151515"/>
<circle cx="320.75" cy="45.9" r="1.2" fill="#151515"/>
<circle cx="324.6" cy="45.9" r="1.2" fill="#151515"/>
<circle cx="328.45" cy="45.9" r="1.2" fill="#151515"/>
<circle cx="332.65" cy="37" r="1.2" fill="#151515"/>
<circle cx="336.5" cy="37" r="1.2" fill="#151515"/>
<circle cx="340.35" cy="37" r="1.2" fill="#151515"/>
<circle cx="332.65" cy="43.9" r="1.2" fill="#151515"/>
<circle cx="336.5" cy="43.9" r="1.2" fill="#151515"/>
<circle cx="340.35" cy="43.9" r="1.2" fill="#151515"/>
<line x1="384.4" y1="21.7" x2="384.4" y2="106.95" stroke="#111" stroke-width="1.3"/>
<line x1="383.8" y1="106.35" x2="509.8" y2="106.35" stroke="#111" stroke-width="1.3"/>
<line x1="381.2" y1="106.35" x2="384.4" y2="106.35" stroke="#111" stroke-width="1.3"/>
<text x="377.8" y="109.09" font-size="7.6" fill="#222" text-anchor="end" textLength="4.56" lengthAdjust="spacingAndGlyphs">0</text>
<line x1="381.2" y1="92.74" x2="384.4" y2="92.74" stroke="#111" stroke-width="1.3"/>
<text x="377.8" y="95.48" font-size="7.6" fill="#222" text-anchor="end" textLength="13.69" lengthAdjust="spacingAndGlyphs">500</text>
<line x1="381.2" y1="79.13" x2="384.4" y2="79.13" stroke="#111" stroke-width="1.3"/>
<text x="377.8" y="81.87" font-size="7.6" fill="#222" text-anchor="end" textLength="18.25" lengthAdjust="spacingAndGlyphs">1000</text>
<line x1="381.2" y1="65.53" x2="384.4" y2="65.53" stroke="#111" stroke-width="1.3"/>
<text x="377.8" y="68.26" font-size="7.6" fill="#222" text-anchor="end" textLength="18.25" lengthAdjust="spacingAndGlyphs">1500</text>
<line x1="381.2" y1="51.92" x2="384.4" y2="51.92" stroke="#111" stroke-width="1.3"/>
<text x="377.8" y="54.65" font-size="7.6" fill="#222" text-anchor="end" textLength="18.25" lengthAdjust="spacingAndGlyphs">2000</text>
<line x1="381.2" y1="38.31" x2="384.4" y2="38.31" stroke="#111" stroke-width="1.3"/>
<text x="377.8" y="41.04" font-size="7.6" fill="#222" text-anchor="end" textLength="18.25" lengthAdjust="spacingAndGlyphs">2500</text>
<line x1="381.2" y1="24.7" x2="384.4" y2="24.7" stroke="#111" stroke-width="1.3"/>
<text x="377.8" y="27.44" font-size="7.6" fill="#222" text-anchor="end" textLength="18.25" lengthAdjust="spacingAndGlyphs">3000</text>
<line x1="384.4" y1="106.35" x2="384.4" y2="109.55" stroke="#111" stroke-width="1.3"/>
<line x1="396.6" y1="106.35" x2="396.6" y2="109.55" stroke="#111" stroke-width="1.3"/>
<line x1="408.8" y1="106.35" x2="408.8" y2="109.55" stroke="#111" stroke-width="1.3"/>
<line x1="421" y1="106.35" x2="421" y2="109.55" stroke="#111" stroke-width="1.3"/>
<line x1="433.2" y1="106.35" x2="433.2" y2="109.55" stroke="#111" stroke-width="1.3"/>
<line x1="445.4" y1="106.35" x2="445.4" y2="109.55" stroke="#111" stroke-width="1.3"/>
<line x1="457.6" y1="106.35" x2="457.6" y2="109.55" stroke="#111" stroke-width="1.3"/>
<line x1="469.8" y1="106.35" x2="469.8" y2="109.55" stroke="#111" stroke-width="1.3"/>
<line x1="482" y1="106.35" x2="482" y2="109.55" stroke="#111" stroke-width="1.3"/>
<line x1="494.2" y1="106.35" x2="494.2" y2="109.55" stroke="#111" stroke-width="1.3"/>
<line x1="506.4" y1="106.35" x2="506.4" y2="109.55" stroke="#111" stroke-width="1.3"/>
<text transform="translate(389.5,115.65) rotate(-45)" font-size="7.2" fill="#222" stroke="#222" stroke-width="0.25" text-anchor="end" textLength="4.4" lengthAdjust="spacingAndGlyphs">0</text>
<text transform="translate(401.7,115.65) rotate(-45)" font-size="7.2" fill="#222" stroke="#222" stroke-width="0.25" text-anchor="end" textLength="15.41" lengthAdjust="spacingAndGlyphs">0.01</text>
<text transform="translate(413.9,115.65) rotate(-45)" font-size="7.2" fill="#222" stroke="#222" stroke-width="0.25" text-anchor="end" textLength="11.01" lengthAdjust="spacingAndGlyphs">0.1</text>
<text transform="translate(426.1,115.65) rotate(-45)" font-size="7.2" fill="#222" stroke="#222" stroke-width="0.25" text-anchor="end" textLength="4.4" lengthAdjust="spacingAndGlyphs">1</text>
<text transform="translate(438.3,115.65) rotate(-45)" font-size="7.2" fill="#222" stroke="#222" stroke-width="0.25" text-anchor="end" textLength="8.81" lengthAdjust="spacingAndGlyphs">10</text>
<text transform="translate(450.5,115.65) rotate(-45)" font-size="7.2" fill="#222" stroke="#222" stroke-width="0.25" text-anchor="end" textLength="8.81" lengthAdjust="spacingAndGlyphs">50</text>
<text transform="translate(462.7,115.65) rotate(-45)" font-size="7.2" fill="#222" stroke="#222" stroke-width="0.25" text-anchor="end" textLength="13.21" lengthAdjust="spacingAndGlyphs">100</text>
<text transform="translate(474.9,115.65) rotate(-45)" font-size="7.2" fill="#222" stroke="#222" stroke-width="0.25" text-anchor="end" textLength="13.21" lengthAdjust="spacingAndGlyphs">500</text>
<text transform="translate(487.1,115.65) rotate(-45)" font-size="7.2" fill="#222" stroke="#222" stroke-width="0.25" text-anchor="end" textLength="17.61" lengthAdjust="spacingAndGlyphs">1000</text>
<text transform="translate(499.3,115.65) rotate(-45)" font-size="7.2" fill="#222" stroke="#222" stroke-width="0.25" text-anchor="end" textLength="17.61" lengthAdjust="spacingAndGlyphs">5000</text>
<text transform="translate(511.5,115.65) rotate(-45)" font-size="7.2" fill="#222" stroke="#222" stroke-width="0.25" text-anchor="end" textLength="22.02" lengthAdjust="spacingAndGlyphs">10000</text>
<text transform="translate(353.4,63.9) rotate(-90)" font-size="8.4" fill="#2a2a2a" text-anchor="middle" font-weight="bold" textLength="36" lengthAdjust="spacingAndGlyphs">C5a (ng/ml)</text>
<polyline points="384.4,101.6 396.6,101.6 408.8,101.1 421,100.9 433.2,99.6 445.4,81 457.6,58.5 469.8,52.3 482,46.7 494.2,47.2 506.4,43.9" fill="none" stroke="#66a43e" stroke-width="1.7" stroke-linejoin="round"/>
<line x1="384.4" y1="99.4" x2="384.4" y2="103.8" stroke="#66a43e" stroke-width="1.1"/>
<line x1="383.1" y1="99.4" x2="385.7" y2="99.4" stroke="#66a43e" stroke-width="1"/>
<line x1="383.1" y1="103.8" x2="385.7" y2="103.8" stroke="#66a43e" stroke-width="1"/>
<polygon points="382.31,100.08 386.49,100.08 384.4,103.69" fill="#66a43e"/>
<line x1="396.6" y1="99.4" x2="396.6" y2="103.8" stroke="#66a43e" stroke-width="1.1"/>
<line x1="395.3" y1="99.4" x2="397.9" y2="99.4" stroke="#66a43e" stroke-width="1"/>
<line x1="395.3" y1="103.8" x2="397.9" y2="103.8" stroke="#66a43e" stroke-width="1"/>
<polygon points="394.51,100.08 398.69,100.08 396.6,103.69" fill="#66a43e"/>
<line x1="408.8" y1="98.9" x2="408.8" y2="103.3" stroke="#66a43e" stroke-width="1.1"/>
<line x1="407.5" y1="98.9" x2="410.1" y2="98.9" stroke="#66a43e" stroke-width="1"/>
<line x1="407.5" y1="103.3" x2="410.1" y2="103.3" stroke="#66a43e" stroke-width="1"/>
<polygon points="406.71,99.58 410.89,99.58 408.8,103.19" fill="#66a43e"/>
<line x1="421" y1="98.7" x2="421" y2="103.1" stroke="#66a43e" stroke-width="1.1"/>
<line x1="419.7" y1="98.7" x2="422.3" y2="98.7" stroke="#66a43e" stroke-width="1"/>
<line x1="419.7" y1="103.1" x2="422.3" y2="103.1" stroke="#66a43e" stroke-width="1"/>
<polygon points="418.91,99.38 423.09,99.38 421,102.99" fill="#66a43e"/>
<line x1="433.2" y1="97.4" x2="433.2" y2="101.8" stroke="#66a43e" stroke-width="1.1"/>
<line x1="431.9" y1="97.4" x2="434.5" y2="97.4" stroke="#66a43e" stroke-width="1"/>
<line x1="431.9" y1="101.8" x2="434.5" y2="101.8" stroke="#66a43e" stroke-width="1"/>
<polygon points="431.11,98.08 435.29,98.08 433.2,101.69" fill="#66a43e"/>
<line x1="445.4" y1="78.8" x2="445.4" y2="83.2" stroke="#66a43e" stroke-width="1.1"/>
<line x1="444.1" y1="78.8" x2="446.7" y2="78.8" stroke="#66a43e" stroke-width="1"/>
<line x1="444.1" y1="83.2" x2="446.7" y2="83.2" stroke="#66a43e" stroke-width="1"/>
<polygon points="443.31,79.48 447.49,79.48 445.4,83.09" fill="#66a43e"/>
<line x1="457.6" y1="56.3" x2="457.6" y2="60.7" stroke="#66a43e" stroke-width="1.1"/>
<line x1="456.3" y1="56.3" x2="458.9" y2="56.3" stroke="#66a43e" stroke-width="1"/>
<line x1="456.3" y1="60.7" x2="458.9" y2="60.7" stroke="#66a43e" stroke-width="1"/>
<polygon points="455.51,56.98 459.69,56.98 457.6,60.59" fill="#66a43e"/>
<line x1="469.8" y1="50.1" x2="469.8" y2="54.5" stroke="#66a43e" stroke-width="1.1"/>
<line x1="468.5" y1="50.1" x2="471.1" y2="50.1" stroke="#66a43e" stroke-width="1"/>
<line x1="468.5" y1="54.5" x2="471.1" y2="54.5" stroke="#66a43e" stroke-width="1"/>
<polygon points="467.71,50.78 471.89,50.78 469.8,54.39" fill="#66a43e"/>
<line x1="482" y1="44.5" x2="482" y2="48.9" stroke="#66a43e" stroke-width="1.1"/>
<line x1="480.7" y1="44.5" x2="483.3" y2="44.5" stroke="#66a43e" stroke-width="1"/>
<line x1="480.7" y1="48.9" x2="483.3" y2="48.9" stroke="#66a43e" stroke-width="1"/>
<polygon points="479.91,45.18 484.09,45.18 482,48.79" fill="#66a43e"/>
<line x1="494.2" y1="45" x2="494.2" y2="49.4" stroke="#66a43e" stroke-width="1.1"/>
<line x1="492.9" y1="45" x2="495.5" y2="45" stroke="#66a43e" stroke-width="1"/>
<line x1="492.9" y1="49.4" x2="495.5" y2="49.4" stroke="#66a43e" stroke-width="1"/>
<polygon points="492.11,45.68 496.29,45.68 494.2,49.29" fill="#66a43e"/>
<line x1="506.4" y1="41.7" x2="506.4" y2="46.1" stroke="#66a43e" stroke-width="1.1"/>
<line x1="505.1" y1="41.7" x2="507.7" y2="41.7" stroke="#66a43e" stroke-width="1"/>
<line x1="505.1" y1="46.1" x2="507.7" y2="46.1" stroke="#66a43e" stroke-width="1"/>
<polygon points="504.31,42.38 508.49,42.38 506.4,45.99" fill="#66a43e"/>
<polyline points="384.4,101.6 396.6,101.6 408.8,101.1 421,100.9 433.2,99.6 445.4,98 457.6,92.6 469.8,92.1 482,91.9 494.2,90.8 506.4,91.6" fill="none" stroke="#2c4678" stroke-width="1.7" stroke-linejoin="round"/>
<line x1="384.4" y1="99.4" x2="384.4" y2="103.8" stroke="#2c4678" stroke-width="1.1"/>
<line x1="383.1" y1="99.4" x2="385.7" y2="99.4" stroke="#2c4678" stroke-width="1"/>
<line x1="383.1" y1="103.8" x2="385.7" y2="103.8" stroke="#2c4678" stroke-width="1"/>
<circle cx="384.4" cy="101.6" r="1.9" fill="#2c4678"/>
<line x1="396.6" y1="99.4" x2="396.6" y2="103.8" stroke="#2c4678" stroke-width="1.1"/>
<line x1="395.3" y1="99.4" x2="397.9" y2="99.4" stroke="#2c4678" stroke-width="1"/>
<line x1="395.3" y1="103.8" x2="397.9" y2="103.8" stroke="#2c4678" stroke-width="1"/>
<circle cx="396.6" cy="101.6" r="1.9" fill="#2c4678"/>
<line x1="408.8" y1="98.9" x2="408.8" y2="103.3" stroke="#2c4678" stroke-width="1.1"/>
<line x1="407.5" y1="98.9" x2="410.1" y2="98.9" stroke="#2c4678" stroke-width="1"/>
<line x1="407.5" y1="103.3" x2="410.1" y2="103.3" stroke="#2c4678" stroke-width="1"/>
<circle cx="408.8" cy="101.1" r="1.9" fill="#2c4678"/>
<line x1="421" y1="98.7" x2="421" y2="103.1" stroke="#2c4678" stroke-width="1.1"/>
<line x1="419.7" y1="98.7" x2="422.3" y2="98.7" stroke="#2c4678" stroke-width="1"/>
<line x1="419.7" y1="103.1" x2="422.3" y2="103.1" stroke="#2c4678" stroke-width="1"/>
<circle cx="421" cy="100.9" r="1.9" fill="#2c4678"/>
<line x1="433.2" y1="97.4" x2="433.2" y2="101.8" stroke="#2c4678" stroke-width="1.1"/>
<line x1="431.9" y1="97.4" x2="434.5" y2="97.4" stroke="#2c4678" stroke-width="1"/>
<line x1="431.9" y1="101.8" x2="434.5" y2="101.8" stroke="#2c4678" stroke-width="1"/>
<circle cx="433.2" cy="99.6" r="1.9" fill="#2c4678"/>
<line x1="445.4" y1="95.8" x2="445.4" y2="100.2" stroke="#2c4678" stroke-width="1.1"/>
<line x1="444.1" y1="95.8" x2="446.7" y2="95.8" stroke="#2c4678" stroke-width="1"/>
<line x1="444.1" y1="100.2" x2="446.7" y2="100.2" stroke="#2c4678" stroke-width="1"/>
<circle cx="445.4" cy="98" r="1.9" fill="#2c4678"/>
<line x1="457.6" y1="90.4" x2="457.6" y2="94.8" stroke="#2c4678" stroke-width="1.1"/>
<line x1="456.3" y1="90.4" x2="458.9" y2="90.4" stroke="#2c4678" stroke-width="1"/>
<line x1="456.3" y1="94.8" x2="458.9" y2="94.8" stroke="#2c4678" stroke-width="1"/>
<circle cx="457.6" cy="92.6" r="1.9" fill="#2c4678"/>
<line x1="469.8" y1="89.9" x2="469.8" y2="94.3" stroke="#2c4678" stroke-width="1.1"/>
<line x1="468.5" y1="89.9" x2="471.1" y2="89.9" stroke="#2c4678" stroke-width="1"/>
<line x1="468.5" y1="94.3" x2="471.1" y2="94.3" stroke="#2c4678" stroke-width="1"/>
<circle cx="469.8" cy="92.1" r="1.9" fill="#2c4678"/>
<line x1="482" y1="89.7" x2="482" y2="94.1" stroke="#2c4678" stroke-width="1.1"/>
<line x1="480.7" y1="89.7" x2="483.3" y2="89.7" stroke="#2c4678" stroke-width="1"/>
<line x1="480.7" y1="94.1" x2="483.3" y2="94.1" stroke="#2c4678" stroke-width="1"/>
<circle cx="482" cy="91.9" r="1.9" fill="#2c4678"/>
<line x1="494.2" y1="88.6" x2="494.2" y2="93" stroke="#2c4678" stroke-width="1.1"/>
<line x1="492.9" y1="88.6" x2="495.5" y2="88.6" stroke="#2c4678" stroke-width="1"/>
<line x1="492.9" y1="93" x2="495.5" y2="93" stroke="#2c4678" stroke-width="1"/>
<circle cx="494.2" cy="90.8" r="1.9" fill="#2c4678"/>
<line x1="506.4" y1="89.4" x2="506.4" y2="93.8" stroke="#2c4678" stroke-width="1.1"/>
<line x1="505.1" y1="89.4" x2="507.7" y2="89.4" stroke="#2c4678" stroke-width="1"/>
<line x1="505.1" y1="93.8" x2="507.7" y2="93.8" stroke="#2c4678" stroke-width="1"/>
<circle cx="506.4" cy="91.6" r="1.9" fill="#2c4678"/>
<polyline points="384.4,101.6 396.6,101.6 408.8,93 421,88.6 433.2,79.3 445.4,74.9 457.6,71 469.8,70.4 482,67.8 494.2,62.5 506.4,63.7" fill="none" stroke="#9e0a36" stroke-width="1.7" stroke-linejoin="round"/>
<line x1="384.4" y1="99.4" x2="384.4" y2="103.8" stroke="#9e0a36" stroke-width="1.1"/>
<line x1="383.1" y1="99.4" x2="385.7" y2="99.4" stroke="#9e0a36" stroke-width="1"/>
<line x1="383.1" y1="103.8" x2="385.7" y2="103.8" stroke="#9e0a36" stroke-width="1"/>
<rect x="382.5" y="99.7" width="3.8" height="3.8" fill="#9e0a36"/>
<line x1="396.6" y1="99.4" x2="396.6" y2="103.8" stroke="#9e0a36" stroke-width="1.1"/>
<line x1="395.3" y1="99.4" x2="397.9" y2="99.4" stroke="#9e0a36" stroke-width="1"/>
<line x1="395.3" y1="103.8" x2="397.9" y2="103.8" stroke="#9e0a36" stroke-width="1"/>
<rect x="394.7" y="99.7" width="3.8" height="3.8" fill="#9e0a36"/>
<line x1="408.8" y1="90.8" x2="408.8" y2="95.2" stroke="#9e0a36" stroke-width="1.1"/>
<line x1="407.5" y1="90.8" x2="410.1" y2="90.8" stroke="#9e0a36" stroke-width="1"/>
<line x1="407.5" y1="95.2" x2="410.1" y2="95.2" stroke="#9e0a36" stroke-width="1"/>
<rect x="406.9" y="91.1" width="3.8" height="3.8" fill="#9e0a36"/>
<line x1="421" y1="86.4" x2="421" y2="90.8" stroke="#9e0a36" stroke-width="1.1"/>
<line x1="419.7" y1="86.4" x2="422.3" y2="86.4" stroke="#9e0a36" stroke-width="1"/>
<line x1="419.7" y1="90.8" x2="422.3" y2="90.8" stroke="#9e0a36" stroke-width="1"/>
<rect x="419.1" y="86.7" width="3.8" height="3.8" fill="#9e0a36"/>
<line x1="433.2" y1="77.1" x2="433.2" y2="81.5" stroke="#9e0a36" stroke-width="1.1"/>
<line x1="431.9" y1="77.1" x2="434.5" y2="77.1" stroke="#9e0a36" stroke-width="1"/>
<line x1="431.9" y1="81.5" x2="434.5" y2="81.5" stroke="#9e0a36" stroke-width="1"/>
<rect x="431.3" y="77.4" width="3.8" height="3.8" fill="#9e0a36"/>
<line x1="445.4" y1="72.7" x2="445.4" y2="77.1" stroke="#9e0a36" stroke-width="1.1"/>
<line x1="444.1" y1="72.7" x2="446.7" y2="72.7" stroke="#9e0a36" stroke-width="1"/>
<line x1="444.1" y1="77.1" x2="446.7" y2="77.1" stroke="#9e0a36" stroke-width="1"/>
<rect x="443.5" y="73" width="3.8" height="3.8" fill="#9e0a36"/>
<line x1="457.6" y1="68.8" x2="457.6" y2="73.2" stroke="#9e0a36" stroke-width="1.1"/>
<line x1="456.3" y1="68.8" x2="458.9" y2="68.8" stroke="#9e0a36" stroke-width="1"/>
<line x1="456.3" y1="73.2" x2="458.9" y2="73.2" stroke="#9e0a36" stroke-width="1"/>
<rect x="455.7" y="69.1" width="3.8" height="3.8" fill="#9e0a36"/>
<line x1="469.8" y1="68.2" x2="469.8" y2="72.6" stroke="#9e0a36" stroke-width="1.1"/>
<line x1="468.5" y1="68.2" x2="471.1" y2="68.2" stroke="#9e0a36" stroke-width="1"/>
<line x1="468.5" y1="72.6" x2="471.1" y2="72.6" stroke="#9e0a36" stroke-width="1"/>
<rect x="467.9" y="68.5" width="3.8" height="3.8" fill="#9e0a36"/>
<line x1="482" y1="65.6" x2="482" y2="70" stroke="#9e0a36" stroke-width="1.1"/>
<line x1="480.7" y1="65.6" x2="483.3" y2="65.6" stroke="#9e0a36" stroke-width="1"/>
<line x1="480.7" y1="70" x2="483.3" y2="70" stroke="#9e0a36" stroke-width="1"/>
<rect x="480.1" y="65.9" width="3.8" height="3.8" fill="#9e0a36"/>
<line x1="494.2" y1="60.3" x2="494.2" y2="64.7" stroke="#9e0a36" stroke-width="1.1"/>
<line x1="492.9" y1="60.3" x2="495.5" y2="60.3" stroke="#9e0a36" stroke-width="1"/>
<line x1="492.9" y1="64.7" x2="495.5" y2="64.7" stroke="#9e0a36" stroke-width="1"/>
<rect x="492.3" y="60.6" width="3.8" height="3.8" fill="#9e0a36"/>
<line x1="506.4" y1="61.5" x2="506.4" y2="65.9" stroke="#9e0a36" stroke-width="1.1"/>
<line x1="505.1" y1="61.5" x2="507.7" y2="61.5" stroke="#9e0a36" stroke-width="1"/>
<line x1="505.1" y1="65.9" x2="507.7" y2="65.9" stroke="#9e0a36" stroke-width="1"/>
<rect x="504.5" y="61.8" width="3.8" height="3.8" fill="#9e0a36"/>
<circle cx="406.05" cy="86.9" r="1.2" fill="#151515"/>
<circle cx="409.9" cy="86.9" r="1.2" fill="#151515"/>
<circle cx="413.75" cy="86.9" r="1.2" fill="#151515"/>
<circle cx="418.15" cy="81.8" r="1.2" fill="#151515"/>
<circle cx="422" cy="81.8" r="1.2" fill="#151515"/>
<circle cx="425.85" cy="81.8" r="1.2" fill="#151515"/>
<circle cx="430.35" cy="74" r="1.2" fill="#151515"/>
<circle cx="434.2" cy="74" r="1.2" fill="#151515"/>
<circle cx="438.05" cy="74" r="1.2" fill="#151515"/>
<circle cx="442.65" cy="70.2" r="1.2" fill="#151515"/>
<circle cx="446.5" cy="70.2" r="1.2" fill="#151515"/>
<circle cx="450.35" cy="70.2" r="1.2" fill="#151515"/>
<circle cx="442.65" cy="77.5" r="1.2" fill="#151515"/>
<circle cx="446.5" cy="77.5" r="1.2" fill="#151515"/>
<circle cx="450.35" cy="77.5" r="1.2" fill="#151515"/>
<circle cx="454.65" cy="52.9" r="1.2" fill="#151515"/>
<circle cx="458.5" cy="52.9" r="1.2" fill="#151515"/>
<circle cx="462.35" cy="52.9" r="1.2" fill="#151515"/>
<circle cx="454.65" cy="65.9" r="1.2" fill="#151515"/>
<circle cx="458.5" cy="65.9" r="1.2" fill="#151515"/>
<circle cx="462.35" cy="65.9" r="1.2" fill="#151515"/>
<circle cx="467.15" cy="45.2" r="1.2" fill="#151515"/>
<circle cx="471" cy="45.2" r="1.2" fill="#151515"/>
<circle cx="474.85" cy="45.2" r="1.2" fill="#151515"/>
<circle cx="467.15" cy="64" r="1.2" fill="#151515"/>
<circle cx="471" cy="64" r="1.2" fill="#151515"/>
<circle cx="474.85" cy="64" r="1.2" fill="#151515"/>
<circle cx="479.25" cy="41.4" r="1.2" fill="#151515"/>
<circle cx="483.1" cy="41.4" r="1.2" fill="#151515"/>
<circle cx="486.95" cy="41.4" r="1.2" fill="#151515"/>
<circle cx="479.25" cy="62.2" r="1.2" fill="#151515"/>
<circle cx="483.1" cy="62.2" r="1.2" fill="#151515"/>
<circle cx="486.95" cy="62.2" r="1.2" fill="#151515"/>
<circle cx="491.55" cy="41.4" r="1.2" fill="#151515"/>
<circle cx="495.4" cy="41.4" r="1.2" fill="#151515"/>
<circle cx="499.25" cy="41.4" r="1.2" fill="#151515"/>
<circle cx="491.55" cy="57.7" r="1.2" fill="#151515"/>
<circle cx="495.4" cy="57.7" r="1.2" fill="#151515"/>
<circle cx="499.25" cy="57.7" r="1.2" fill="#151515"/>
<circle cx="504.15" cy="37.1" r="1.2" fill="#151515"/>
<circle cx="508" cy="37.1" r="1.2" fill="#151515"/>
<circle cx="511.85" cy="37.1" r="1.2" fill="#151515"/>
<circle cx="504.15" cy="58.2" r="1.2" fill="#151515"/>
<circle cx="508" cy="58.2" r="1.2" fill="#151515"/>
<circle cx="511.85" cy="58.2" r="1.2" fill="#151515"/>
<line x1="50.2" y1="141.9" x2="441" y2="141.9" stroke="#222" stroke-width="1.5"/>
<polygon points="439.4,139.4 445.2,141.9 439.4,144.4" fill="#222"/>
<text x="450.8" y="144.6" font-size="8.8" fill="#333" font-weight="bold" textLength="19.6" lengthAdjust="spacingAndGlyphs">μg/ml</text>
<line x1="58.2" y1="188.2" x2="58.2" y2="289" stroke="#111" stroke-width="1.3"/>
<line x1="57.6" y1="288.4" x2="203.6" y2="288.4" stroke="#111" stroke-width="1.3"/>
<line x1="54.6" y1="288.4" x2="58.2" y2="288.4" stroke="#111" stroke-width="1.3"/>
<text x="51.3" y="291.21" font-size="7.8" fill="#222" text-anchor="end" textLength="4.6" lengthAdjust="spacingAndGlyphs">0</text>
<line x1="54.6" y1="264.07" x2="58.2" y2="264.07" stroke="#111" stroke-width="1.3"/>
<text x="51.3" y="266.88" font-size="7.8" fill="#222" text-anchor="end" textLength="13.79" lengthAdjust="spacingAndGlyphs">500</text>
<line x1="54.6" y1="239.75" x2="58.2" y2="239.75" stroke="#111" stroke-width="1.3"/>
<text x="51.3" y="242.56" font-size="7.8" fill="#222" text-anchor="end" textLength="18.39" lengthAdjust="spacingAndGlyphs">1000</text>
<line x1="54.6" y1="215.42" x2="58.2" y2="215.42" stroke="#111" stroke-width="1.3"/>
<text x="51.3" y="218.23" font-size="7.8" fill="#222" text-anchor="end" textLength="18.39" lengthAdjust="spacingAndGlyphs">1500</text>
<line x1="54.6" y1="191.1" x2="58.2" y2="191.1" stroke="#111" stroke-width="1.3"/>
<text x="51.3" y="193.91" font-size="7.8" fill="#222" text-anchor="end" textLength="18.39" lengthAdjust="spacingAndGlyphs">2000</text>
<text transform="translate(25.8,238.8) rotate(-90)" font-size="8.4" fill="#2a2a2a" text-anchor="middle" font-weight="bold" textLength="35.6" lengthAdjust="spacingAndGlyphs">C3a (ng/ml)</text>
<rect x="62.3" y="217.5" width="6.3" height="70.9" fill="#ab0530" stroke="#850020" stroke-width="0.6"/>
<line x1="65.45" y1="214.5" x2="65.45" y2="217.2" stroke="#2a2a2a" stroke-width="1.1"/>
<line x1="63.85" y1="214.5" x2="67.05" y2="214.5" stroke="#2a2a2a" stroke-width="1.4"/>
<rect x="71.7" y="267.2" width="6.2" height="21.2" fill="#2f4a82" stroke="#213868" stroke-width="0.6"/>
<line x1="74.8" y1="261.6" x2="74.8" y2="266.9" stroke="#2a2a2a" stroke-width="1.1"/>
<line x1="73.2" y1="261.6" x2="76.4" y2="261.6" stroke="#2a2a2a" stroke-width="1.4"/>
<rect x="86.5" y="218.5" width="6.3" height="69.9" fill="#ab0530" stroke="#850020" stroke-width="0.6"/>
<line x1="89.65" y1="214.2" x2="89.65" y2="218.2" stroke="#2a2a2a" stroke-width="1.1"/>
<line x1="88.05" y1="214.2" x2="91.25" y2="214.2" stroke="#2a2a2a" stroke-width="1.4"/>
<rect x="95.9" y="271.5" width="6.2" height="16.9" fill="#2f4a82" stroke="#213868" stroke-width="0.6"/>
<line x1="99" y1="267.9" x2="99" y2="271.2" stroke="#2a2a2a" stroke-width="1.1"/>
<line x1="97.4" y1="267.9" x2="100.6" y2="267.9" stroke="#2a2a2a" stroke-width="1.4"/>
<rect x="110.7" y="216.3" width="6.3" height="72.1" fill="#ab0530" stroke="#850020" stroke-width="0.6"/>
<line x1="113.85" y1="210.7" x2="113.85" y2="216" stroke="#2a2a2a" stroke-width="1.1"/>
<line x1="112.25" y1="210.7" x2="115.45" y2="210.7" stroke="#2a2a2a" stroke-width="1.4"/>
<rect x="120.1" y="276.6" width="6.2" height="11.8" fill="#2f4a82" stroke="#213868" stroke-width="0.6"/>
<line x1="123.2" y1="273.8" x2="123.2" y2="276.3" stroke="#2a2a2a" stroke-width="1.1"/>
<line x1="121.6" y1="273.8" x2="124.8" y2="273.8" stroke="#2a2a2a" stroke-width="1.4"/>
<rect x="134.9" y="217" width="6.3" height="71.4" fill="#ab0530" stroke="#850020" stroke-width="0.6"/>
<line x1="138.05" y1="213.2" x2="138.05" y2="216.7" stroke="#2a2a2a" stroke-width="1.1"/>
<line x1="136.45" y1="213.2" x2="139.65" y2="213.2" stroke="#2a2a2a" stroke-width="1.4"/>
<rect x="144.3" y="280.2" width="6.2" height="8.2" fill="#2f4a82" stroke="#213868" stroke-width="0.6"/>
<line x1="147.4" y1="278.4" x2="147.4" y2="279.9" stroke="#2a2a2a" stroke-width="1.1"/>
<line x1="145.8" y1="278.4" x2="149" y2="278.4" stroke="#2a2a2a" stroke-width="1.4"/>
<rect x="159.1" y="221.2" width="6.3" height="67.2" fill="#ab0530" stroke="#850020" stroke-width="0.6"/>
<line x1="162.25" y1="211.9" x2="162.25" y2="220.9" stroke="#2a2a2a" stroke-width="1.1"/>
<line x1="160.65" y1="211.9" x2="163.85" y2="211.9" stroke="#2a2a2a" stroke-width="1.4"/>
<rect x="168.5" y="247.6" width="6.2" height="40.8" fill="#2f4a82" stroke="#213868" stroke-width="0.6"/>
<line x1="171.6" y1="238.3" x2="171.6" y2="247.3" stroke="#2a2a2a" stroke-width="1.1"/>
<line x1="170" y1="238.3" x2="173.2" y2="238.3" stroke="#2a2a2a" stroke-width="1.4"/>
<rect x="183.3" y="270.2" width="6.3" height="18.2" fill="#ab0530" stroke="#850020" stroke-width="0.6"/>
<line x1="186.45" y1="267.9" x2="186.45" y2="269.9" stroke="#2a2a2a" stroke-width="1.1"/>
<line x1="184.85" y1="267.9" x2="188.05" y2="267.9" stroke="#2a2a2a" stroke-width="1.4"/>
<rect x="192.7" y="286.2" width="6.2" height="2.2" fill="#2f4a82" stroke="#213868" stroke-width="0.6"/>
<line x1="195.8" y1="284.7" x2="195.8" y2="285.9" stroke="#2a2a2a" stroke-width="1.1"/>
<line x1="194.2" y1="284.7" x2="197.4" y2="284.7" stroke="#2a2a2a" stroke-width="1.4"/>
<line x1="70.1" y1="288.4" x2="70.1" y2="291.4" stroke="#111" stroke-width="1.3"/>
<line x1="94.3" y1="288.4" x2="94.3" y2="291.4" stroke="#111" stroke-width="1.3"/>
<line x1="118.5" y1="288.4" x2="118.5" y2="291.4" stroke="#111" stroke-width="1.3"/>
<line x1="142.7" y1="288.4" x2="142.7" y2="291.4" stroke="#111" stroke-width="1.3"/>
<line x1="166.9" y1="288.4" x2="166.9" y2="291.4" stroke="#111" stroke-width="1.3"/>
<line x1="191.1" y1="288.4" x2="191.1" y2="291.4" stroke="#111" stroke-width="1.3"/>
<path d="M74.4,261 L74.4,183.4 L196.2,183.4 L196.2,254" fill="none" stroke="#2a2a2a" stroke-width="1.25"/>
<path d="M74.4,191.6 L74.4,191.6 L172.4,191.6 L172.4,227.2" fill="none" stroke="#2a2a2a" stroke-width="1.25"/>
<path d="M74.4,199.8 L74.4,199.8 L147.5,199.8 L147.5,255.3" fill="none" stroke="#2a2a2a" stroke-width="1.25"/>
<circle cx="137.15" cy="179" r="1.2" fill="#151515"/>
<circle cx="141" cy="179" r="1.2" fill="#151515"/>
<circle cx="144.85" cy="179" r="1.2" fill="#151515"/>
<circle cx="123.78" cy="188.3" r="1.2" fill="#151515"/>
<circle cx="127.62" cy="188.3" r="1.2" fill="#151515"/>
<circle cx="110.58" cy="196.9" r="1.2" fill="#151515"/>
<circle cx="114.42" cy="196.9" r="1.2" fill="#151515"/>
<rect x="199.7" y="190.2" width="7.2" height="5.8" fill="#ab0530"/>
<text x="209.8" y="195.7" font-size="7.9" fill="#222" textLength="56.2" lengthAdjust="spacingAndGlyphs">Without Factor H</text>
<rect x="199.7" y="201.1" width="7.2" height="5.6" fill="#2f4a82"/>
<text x="209.8" y="206.6" font-size="7.9" fill="#222" textLength="62.5" lengthAdjust="spacingAndGlyphs">Factor H (25μg/ml)</text>
<text transform="translate(75.8,296.7) rotate(-50.5)" font-size="7.95" fill="#222" stroke="#222" stroke-width="0.12" text-anchor="end">Vehicle</text>
<text transform="translate(100.6,298.3) rotate(-50.5)" font-size="7.95" fill="#222" stroke="#222" stroke-width="0.12" text-anchor="end">GL-2045</text>
<text transform="translate(109,304) rotate(-50.5)" font-size="7.95" fill="#222" stroke="#222" stroke-width="0.12" text-anchor="end">(10μg/ml)</text>
<text transform="translate(124.8,298.3) rotate(-50.5)" font-size="7.95" fill="#222" stroke="#222" stroke-width="0.12" text-anchor="end">GL-2045</text>
<text transform="translate(133.2,304) rotate(-50.5)" font-size="7.95" fill="#222" stroke="#222" stroke-width="0.12" text-anchor="end">(50μg/ml)</text>
<text transform="translate(149,298.3) rotate(-50.5)" font-size="7.95" fill="#222" stroke="#222" stroke-width="0.12" text-anchor="end">GL-2045</text>
<text transform="translate(157.4,304) rotate(-50.5)" font-size="7.95" fill="#222" stroke="#222" stroke-width="0.12" text-anchor="end">(100μg/ml)</text>
<text transform="translate(173.2,298.3) rotate(-50.5)" font-size="7.95" fill="#222" stroke="#222" stroke-width="0.12" text-anchor="end">HAGG</text>
<text transform="translate(181.6,304) rotate(-50.5)" font-size="7.95" fill="#222" stroke="#222" stroke-width="0.12" text-anchor="end">(500μg/ml)</text>
<text transform="translate(197.4,298.3) rotate(-50.5)" font-size="7.95" fill="#222" stroke="#222" stroke-width="0.12" text-anchor="end">IVIG</text>
<text transform="translate(205.8,304) rotate(-50.5)" font-size="7.95" fill="#222" stroke="#222" stroke-width="0.12" text-anchor="end">(10mg/ml)</text>
<line x1="332.7" y1="189" x2="332.7" y2="288.6" stroke="#111" stroke-width="1.3"/>
<line x1="332.1" y1="288" x2="477" y2="288" stroke="#111" stroke-width="1.3"/>
<line x1="329.1" y1="288" x2="332.7" y2="288" stroke="#111" stroke-width="1.3"/>
<text x="325.8" y="290.81" font-size="7.8" fill="#222" text-anchor="end" textLength="4.6" lengthAdjust="spacingAndGlyphs">0</text>
<line x1="329.1" y1="263.9" x2="332.7" y2="263.9" stroke="#111" stroke-width="1.3"/>
<text x="325.8" y="266.71" font-size="7.8" fill="#222" text-anchor="end" textLength="13.79" lengthAdjust="spacingAndGlyphs">400</text>
<line x1="329.1" y1="239.8" x2="332.7" y2="239.8" stroke="#111" stroke-width="1.3"/>
<text x="325.8" y="242.61" font-size="7.8" fill="#222" text-anchor="end" textLength="13.79" lengthAdjust="spacingAndGlyphs">800</text>
<line x1="329.1" y1="215.7" x2="332.7" y2="215.7" stroke="#111" stroke-width="1.3"/>
<text x="325.8" y="218.51" font-size="7.8" fill="#222" text-anchor="end" textLength="18.39" lengthAdjust="spacingAndGlyphs">1200</text>
<line x1="329.1" y1="191.6" x2="332.7" y2="191.6" stroke="#111" stroke-width="1.3"/>
<text x="325.8" y="194.41" font-size="7.8" fill="#222" text-anchor="end" textLength="18.39" lengthAdjust="spacingAndGlyphs">1600</text>
<text transform="translate(298.4,238.8) rotate(-90)" font-size="8.4" fill="#2a2a2a" text-anchor="middle" font-weight="bold" textLength="35.6" lengthAdjust="spacingAndGlyphs">C3a (ng/ml)</text>
<rect x="336" y="204.5" width="6.3" height="83.5" fill="#e3921a" stroke="#c9841e" stroke-width="0.6"/>
<line x1="339.15" y1="199.4" x2="339.15" y2="204.2" stroke="#2a2a2a" stroke-width="1.1"/>
<line x1="337.55" y1="199.4" x2="340.75" y2="199.4" stroke="#2a2a2a" stroke-width="1.4"/>
<rect x="344.6" y="201.2" width="6.3" height="86.8" fill="#ab0530" stroke="#850020" stroke-width="0.6"/>
<line x1="347.75" y1="197.6" x2="347.75" y2="200.9" stroke="#2a2a2a" stroke-width="1.1"/>
<line x1="346.15" y1="197.6" x2="349.35" y2="197.6" stroke="#2a2a2a" stroke-width="1.4"/>
<rect x="353.2" y="205.2" width="6.3" height="82.8" fill="#2f4a82" stroke="#213868" stroke-width="0.6"/>
<line x1="356.35" y1="200.7" x2="356.35" y2="204.9" stroke="#2a2a2a" stroke-width="1.1"/>
<line x1="354.75" y1="200.7" x2="357.95" y2="200.7" stroke="#2a2a2a" stroke-width="1.4"/>
<rect x="361.8" y="203.7" width="6.3" height="84.3" fill="#6aa83e" stroke="#5a9034" stroke-width="0.6"/>
<line x1="364.95" y1="196.6" x2="364.95" y2="203.4" stroke="#2a2a2a" stroke-width="1.1"/>
<line x1="363.35" y1="196.6" x2="366.55" y2="196.6" stroke="#2a2a2a" stroke-width="1.4"/>
<rect x="370.4" y="203.5" width="6.3" height="84.5" fill="#57226a" stroke="#441a55" stroke-width="0.6"/>
<line x1="373.55" y1="199.1" x2="373.55" y2="203.2" stroke="#2a2a2a" stroke-width="1.1"/>
<line x1="371.95" y1="199.1" x2="375.15" y2="199.1" stroke="#2a2a2a" stroke-width="1.4"/>
<rect x="384.25" y="240.5" width="6.3" height="47.5" fill="#e3921a" stroke="#c9841e" stroke-width="0.6"/>
<line x1="387.4" y1="233.7" x2="387.4" y2="240.2" stroke="#2a2a2a" stroke-width="1.1"/>
<line x1="385.8" y1="233.7" x2="389" y2="233.7" stroke="#2a2a2a" stroke-width="1.4"/>
<rect x="392.85" y="247.4" width="6.3" height="40.6" fill="#ab0530" stroke="#850020" stroke-width="0.6"/>
<line x1="396" y1="241.8" x2="396" y2="247.1" stroke="#2a2a2a" stroke-width="1.1"/>
<line x1="394.4" y1="241.8" x2="397.6" y2="241.8" stroke="#2a2a2a" stroke-width="1.4"/>
<rect x="401.45" y="238.2" width="6.3" height="49.8" fill="#2f4a82" stroke="#213868" stroke-width="0.6"/>
<line x1="404.6" y1="234.6" x2="404.6" y2="237.9" stroke="#2a2a2a" stroke-width="1.1"/>
<line x1="403" y1="234.6" x2="406.2" y2="234.6" stroke="#2a2a2a" stroke-width="1.4"/>
<rect x="410.05" y="240.9" width="6.3" height="47.1" fill="#6aa83e" stroke="#5a9034" stroke-width="0.6"/>
<line x1="413.2" y1="236.5" x2="413.2" y2="240.6" stroke="#2a2a2a" stroke-width="1.1"/>
<line x1="411.6" y1="236.5" x2="414.8" y2="236.5" stroke="#2a2a2a" stroke-width="1.4"/>
<rect x="418.65" y="250.9" width="6.3" height="37.1" fill="#57226a" stroke="#441a55" stroke-width="0.6"/>
<line x1="421.8" y1="247.4" x2="421.8" y2="250.6" stroke="#2a2a2a" stroke-width="1.1"/>
<line x1="420.2" y1="247.4" x2="423.4" y2="247.4" stroke="#2a2a2a" stroke-width="1.4"/>
<rect x="432.5" y="254.7" width="6.3" height="33.3" fill="#e3921a" stroke="#c9841e" stroke-width="0.6"/>
<line x1="435.65" y1="247.7" x2="435.65" y2="254.4" stroke="#2a2a2a" stroke-width="1.1"/>
<line x1="434.05" y1="247.7" x2="437.25" y2="247.7" stroke="#2a2a2a" stroke-width="1.4"/>
<rect x="441.1" y="268.1" width="6.3" height="19.9" fill="#ab0530" stroke="#850020" stroke-width="0.6"/>
<line x1="444.25" y1="265.4" x2="444.25" y2="267.8" stroke="#2a2a2a" stroke-width="1.1"/>
<line x1="442.65" y1="265.4" x2="445.85" y2="265.4" stroke="#2a2a2a" stroke-width="1.4"/>
<rect x="449.7" y="253" width="6.3" height="35" fill="#2f4a82" stroke="#213868" stroke-width="0.6"/>
<line x1="452.85" y1="249.4" x2="452.85" y2="252.7" stroke="#2a2a2a" stroke-width="1.1"/>
<line x1="451.25" y1="249.4" x2="454.45" y2="249.4" stroke="#2a2a2a" stroke-width="1.4"/>
<rect x="458.3" y="260.1" width="6.3" height="27.9" fill="#6aa83e" stroke="#5a9034" stroke-width="0.6"/>
<line x1="461.45" y1="256.7" x2="461.45" y2="259.8" stroke="#2a2a2a" stroke-width="1.1"/>
<line x1="459.85" y1="256.7" x2="463.05" y2="256.7" stroke="#2a2a2a" stroke-width="1.4"/>
<rect x="466.9" y="271.2" width="6.3" height="16.8" fill="#57226a" stroke="#441a55" stroke-width="0.6"/>
<line x1="470.05" y1="268.5" x2="470.05" y2="270.9" stroke="#2a2a2a" stroke-width="1.1"/>
<line x1="468.45" y1="268.5" x2="471.65" y2="268.5" stroke="#2a2a2a" stroke-width="1.4"/>
<line x1="356.3" y1="288" x2="356.3" y2="291" stroke="#111" stroke-width="1.3"/>
<line x1="404.55" y1="288" x2="404.55" y2="291" stroke="#111" stroke-width="1.3"/>
<line x1="452.8" y1="288" x2="452.8" y2="291" stroke="#111" stroke-width="1.3"/>
<text x="356.3" y="301.2" font-size="7.6" fill="#222" text-anchor="middle">0</text>
<text x="404.55" y="301.2" font-size="7.6" fill="#222" text-anchor="middle">10</text>
<text x="452.8" y="301.2" font-size="7.6" fill="#222" text-anchor="middle">25</text>
<text x="404.3" y="314.6" font-size="9.3" fill="#222" text-anchor="middle" font-weight="bold" textLength="102" lengthAdjust="spacingAndGlyphs">Concentration of factor H (μg/ml)</text>
<path d="M387.4,232.8 L387.4,211.5 L422.3,211.5 L422.3,246.6" fill="none" stroke="#2a2a2a" stroke-width="1.25"/>
<circle cx="403.07" cy="208.7" r="1.2" fill="#151515"/>
<circle cx="406.93" cy="208.7" r="1.2" fill="#151515"/>
<path d="M387.4,221.2 L387.4,221.2 L395.8,221.2 L395.8,240.6" fill="none" stroke="#2a2a2a" stroke-width="1.25"/>
<circle cx="392" cy="217.2" r="1.2" fill="#151515"/>
<path d="M435.6,246.9 L435.6,225.1 L469.7,225.1 L469.7,253" fill="none" stroke="#2a2a2a" stroke-width="1.25"/>
<circle cx="448.95" cy="220.3" r="1.2" fill="#151515"/>
<circle cx="452.8" cy="220.3" r="1.2" fill="#151515"/>
<circle cx="456.65" cy="220.3" r="1.2" fill="#151515"/>
<path d="M435.6,236.3 L435.6,236.3 L443.8,236.3 L443.8,253" fill="none" stroke="#2a2a2a" stroke-width="1.25"/>
<circle cx="438.47" cy="232.4" r="1.2" fill="#151515"/>
<circle cx="442.32" cy="232.4" r="1.2" fill="#151515"/>
<rect x="471.8" y="185.5" width="7.3" height="5.2" fill="#e3921a"/>
<text x="482.1" y="190.9" font-size="8.2" fill="#222" textLength="23.2" lengthAdjust="spacingAndGlyphs">Vehicle</text>
<rect x="471.8" y="196.95" width="7.3" height="5.2" fill="#ab0530"/>
<text x="482.1" y="202.35" font-size="8.2" fill="#222" textLength="29.4" lengthAdjust="spacingAndGlyphs">GL-2045</text>
<rect x="471.8" y="208.4" width="7.3" height="5.2" fill="#2f4a82"/>
<text x="482.1" y="213.8" font-size="8.2" fill="#222" textLength="8.8" lengthAdjust="spacingAndGlyphs">F1</text>
<rect x="471.8" y="219.85" width="7.3" height="5.2" fill="#6aa83e"/>
<text x="482.1" y="225.25" font-size="8.2" fill="#222" textLength="8.8" lengthAdjust="spacingAndGlyphs">F4</text>
<rect x="471.8" y="231.3" width="7.3" height="5.2" fill="#57226a"/>
<text x="482.1" y="236.7" font-size="8.2" fill="#222" textLength="8.8" lengthAdjust="spacingAndGlyphs">F6</text>
<line x1="58.2" y1="370" x2="58.2" y2="468.9" stroke="#111" stroke-width="1.3"/>
<line x1="57.6" y1="468.3" x2="202.6" y2="468.3" stroke="#111" stroke-width="1.3"/>
<line x1="54.6" y1="468.3" x2="58.2" y2="468.3" stroke="#111" stroke-width="1.3"/>
<text x="51.3" y="471.11" font-size="7.8" fill="#222" text-anchor="end" textLength="4.6" lengthAdjust="spacingAndGlyphs">0</text>
<line x1="54.6" y1="444.27" x2="58.2" y2="444.27" stroke="#111" stroke-width="1.3"/>
<text x="51.3" y="447.08" font-size="7.8" fill="#222" text-anchor="end" textLength="13.79" lengthAdjust="spacingAndGlyphs">400</text>
<line x1="54.6" y1="420.25" x2="58.2" y2="420.25" stroke="#111" stroke-width="1.3"/>
<text x="51.3" y="423.06" font-size="7.8" fill="#222" text-anchor="end" textLength="13.79" lengthAdjust="spacingAndGlyphs">800</text>
<line x1="54.6" y1="396.23" x2="58.2" y2="396.23" stroke="#111" stroke-width="1.3"/>
<text x="51.3" y="399.03" font-size="7.8" fill="#222" text-anchor="end" textLength="18.39" lengthAdjust="spacingAndGlyphs">1200</text>
<line x1="54.6" y1="372.2" x2="58.2" y2="372.2" stroke="#111" stroke-width="1.3"/>
<text x="51.3" y="375.01" font-size="7.8" fill="#222" text-anchor="end" textLength="18.39" lengthAdjust="spacingAndGlyphs">1600</text>
<text transform="translate(25.6,419.7) rotate(-90)" font-size="8.4" fill="#2a2a2a" text-anchor="middle" font-weight="bold" textLength="35.6" lengthAdjust="spacingAndGlyphs">C3a (ng/ml)</text>
<rect x="63.1" y="384.8" width="6.3" height="83.5" fill="#e3921a" stroke="#c9841e" stroke-width="0.6"/>
<line x1="66.25" y1="383.3" x2="66.25" y2="384.5" stroke="#2a2a2a" stroke-width="1.1"/>
<line x1="64.65" y1="383.3" x2="67.85" y2="383.3" stroke="#2a2a2a" stroke-width="1.4"/>
<rect x="72.7" y="387" width="6.3" height="81.3" fill="#ab0530" stroke="#850020" stroke-width="0.6"/>
<line x1="75.85" y1="384.3" x2="75.85" y2="386.7" stroke="#2a2a2a" stroke-width="1.1"/>
<line x1="74.25" y1="384.3" x2="77.45" y2="384.3" stroke="#2a2a2a" stroke-width="1.4"/>
<rect x="81.9" y="381.4" width="7.7" height="86.9" fill="url(#hatch)"/>
<line x1="85.75" y1="377.2" x2="85.75" y2="381.4" stroke="#2a2a2a" stroke-width="1.1"/>
<line x1="84.15" y1="377.2" x2="87.35" y2="377.2" stroke="#2a2a2a" stroke-width="1.4"/>
<rect x="99.2" y="398.5" width="6.3" height="69.8" fill="#e3921a" stroke="#c9841e" stroke-width="0.6"/>
<line x1="102.35" y1="393.2" x2="102.35" y2="398.2" stroke="#2a2a2a" stroke-width="1.1"/>
<line x1="100.75" y1="393.2" x2="103.95" y2="393.2" stroke="#2a2a2a" stroke-width="1.4"/>
<rect x="108.8" y="403" width="6.3" height="65.3" fill="#ab0530" stroke="#850020" stroke-width="0.6"/>
<line x1="111.95" y1="399.5" x2="111.95" y2="402.7" stroke="#2a2a2a" stroke-width="1.1"/>
<line x1="110.35" y1="399.5" x2="113.55" y2="399.5" stroke="#2a2a2a" stroke-width="1.4"/>
<rect x="118" y="405.7" width="7.7" height="62.6" fill="url(#hatch)"/>
<rect x="135.3" y="404.8" width="6.3" height="63.5" fill="#e3921a" stroke="#c9841e" stroke-width="0.6"/>
<line x1="138.45" y1="401.2" x2="138.45" y2="404.5" stroke="#2a2a2a" stroke-width="1.1"/>
<line x1="136.85" y1="401.2" x2="140.05" y2="401.2" stroke="#2a2a2a" stroke-width="1.4"/>
<rect x="144.9" y="414.3" width="6.3" height="54" fill="#ab0530" stroke="#850020" stroke-width="0.6"/>
<line x1="148.05" y1="410.5" x2="148.05" y2="414" stroke="#2a2a2a" stroke-width="1.1"/>
<line x1="146.45" y1="410.5" x2="149.65" y2="410.5" stroke="#2a2a2a" stroke-width="1.4"/>
<rect x="154.1" y="417.8" width="7.7" height="50.5" fill="url(#hatch)"/>
<line x1="157.95" y1="415.3" x2="157.95" y2="417.8" stroke="#2a2a2a" stroke-width="1.1"/>
<line x1="156.35" y1="415.3" x2="159.55" y2="415.3" stroke="#2a2a2a" stroke-width="1.4"/>
<rect x="171.4" y="422.8" width="6.3" height="45.5" fill="#e3921a" stroke="#c9841e" stroke-width="0.6"/>
<line x1="174.55" y1="420.1" x2="174.55" y2="422.5" stroke="#2a2a2a" stroke-width="1.1"/>
<line x1="172.95" y1="420.1" x2="176.15" y2="420.1" stroke="#2a2a2a" stroke-width="1.4"/>
<rect x="181" y="444.1" width="6.3" height="24.2" fill="#ab0530" stroke="#850020" stroke-width="0.6"/>
<line x1="184.15" y1="442.4" x2="184.15" y2="443.8" stroke="#2a2a2a" stroke-width="1.1"/>
<line x1="182.55" y1="442.4" x2="185.75" y2="442.4" stroke="#2a2a2a" stroke-width="1.4"/>
<rect x="190.2" y="452.6" width="7.7" height="15.7" fill="url(#hatch)"/>
<line x1="194.05" y1="449" x2="194.05" y2="452.6" stroke="#2a2a2a" stroke-width="1.1"/>
<line x1="192.45" y1="449" x2="195.65" y2="449" stroke="#2a2a2a" stroke-width="1.4"/>
<line x1="76" y1="468.3" x2="76" y2="471.3" stroke="#111" stroke-width="1.3"/>
<line x1="112.1" y1="468.3" x2="112.1" y2="471.3" stroke="#111" stroke-width="1.3"/>
<line x1="148.2" y1="468.3" x2="148.2" y2="471.3" stroke="#111" stroke-width="1.3"/>
<line x1="184.3" y1="468.3" x2="184.3" y2="471.3" stroke="#111" stroke-width="1.3"/>
<text x="76" y="482.1" font-size="7.8" fill="#222" text-anchor="middle" textLength="34.4" lengthAdjust="spacingAndGlyphs">No Factor</text>
<text x="76.2" y="492.1" font-size="7.8" fill="#222" text-anchor="middle" textLength="24.7" lengthAdjust="spacingAndGlyphs">H and I</text>
<text x="112.1" y="481.6" font-size="7.6" fill="#222" text-anchor="middle">0</text>
<text x="148.2" y="481.6" font-size="7.6" fill="#222" text-anchor="middle">1</text>
<text x="184.3" y="481.6" font-size="7.6" fill="#222" text-anchor="middle">25</text>
<text x="130.1" y="505" font-size="9.3" fill="#222" text-anchor="middle" font-weight="bold" textLength="99.4" lengthAdjust="spacingAndGlyphs">Concentration of factor I (μg/ml)</text>
<line x1="102.5" y1="374.1" x2="196.7" y2="374.1" stroke="#222" stroke-width="1.3"/>
<text x="149.4" y="371" font-size="8.2" fill="#222" stroke="#222" stroke-width="0.2" text-anchor="middle" textLength="59.5" lengthAdjust="spacingAndGlyphs">Factor H (1 μg/ml)</text>
<path d="M138.9,383.4 L138.9,383.4 L158.3,383.4 L158.3,412.8" fill="none" stroke="#2a2a2a" stroke-width="1.25"/>
<circle cx="146.38" cy="380.2" r="1.2" fill="#151515"/>
<circle cx="150.23" cy="380.2" r="1.2" fill="#151515"/>
<path d="M174.7,403.6 L174.7,403.6 L194.3,403.6 L194.3,436.7" fill="none" stroke="#2a2a2a" stroke-width="1.25"/>
<circle cx="180.35" cy="398.5" r="1.2" fill="#151515"/>
<circle cx="184.2" cy="398.5" r="1.2" fill="#151515"/>
<circle cx="188.05" cy="398.5" r="1.2" fill="#151515"/>
<path d="M174.7,414.7 L174.7,414.7 L184.3,414.7 L184.3,435.6" fill="none" stroke="#2a2a2a" stroke-width="1.25"/>
<circle cx="178.07" cy="410.1" r="1.2" fill="#151515"/>
<circle cx="181.93" cy="410.1" r="1.2" fill="#151515"/>
<rect x="203.1" y="377.7" width="7.7" height="5" fill="#e3921a"/>
<text x="213.7" y="383.1" font-size="8" fill="#222" textLength="23" lengthAdjust="spacingAndGlyphs">Vehicle</text>
<rect x="203.1" y="389.3" width="7.7" height="5.6" fill="#ab0530"/>
<text x="213.7" y="395" font-size="8" fill="#222" textLength="64.3" lengthAdjust="spacingAndGlyphs">GL-2045 (10μg/ml)</text>
<rect x="203.1" y="401.2" width="7.7" height="5.6" fill="url(#hatch)"/>
<text x="213.7" y="407.1" font-size="8" fill="#222" textLength="64.3" lengthAdjust="spacingAndGlyphs">GL-2045 (50μg/ml)</text>
<line x1="332.6" y1="373.3" x2="332.6" y2="469.4" stroke="#111" stroke-width="1.3"/>
<line x1="332" y1="468.8" x2="474.4" y2="468.8" stroke="#111" stroke-width="1.3"/>
<line x1="329" y1="468.8" x2="332.6" y2="468.8" stroke="#111" stroke-width="1.3"/>
<text x="326" y="471.61" font-size="7.8" fill="#222" text-anchor="end" textLength="4.6" lengthAdjust="spacingAndGlyphs">0</text>
<line x1="329" y1="453.28" x2="332.6" y2="453.28" stroke="#111" stroke-width="1.3"/>
<text x="326" y="456.09" font-size="7.8" fill="#222" text-anchor="end" textLength="9.19" lengthAdjust="spacingAndGlyphs">50</text>
<line x1="329" y1="437.77" x2="332.6" y2="437.77" stroke="#111" stroke-width="1.3"/>
<text x="326" y="440.57" font-size="7.8" fill="#222" text-anchor="end" textLength="13.79" lengthAdjust="spacingAndGlyphs">100</text>
<line x1="329" y1="422.25" x2="332.6" y2="422.25" stroke="#111" stroke-width="1.3"/>
<text x="326" y="425.06" font-size="7.8" fill="#222" text-anchor="end" textLength="13.79" lengthAdjust="spacingAndGlyphs">150</text>
<line x1="329" y1="406.73" x2="332.6" y2="406.73" stroke="#111" stroke-width="1.3"/>
<text x="326" y="409.54" font-size="7.8" fill="#222" text-anchor="end" textLength="13.79" lengthAdjust="spacingAndGlyphs">200</text>
<line x1="329" y1="391.22" x2="332.6" y2="391.22" stroke="#111" stroke-width="1.3"/>
<text x="326" y="394.02" font-size="7.8" fill="#222" text-anchor="end" textLength="13.79" lengthAdjust="spacingAndGlyphs">250</text>
<line x1="329" y1="375.7" x2="332.6" y2="375.7" stroke="#111" stroke-width="1.3"/>
<text x="326" y="378.51" font-size="7.8" fill="#222" text-anchor="end" textLength="13.79" lengthAdjust="spacingAndGlyphs">300</text>
<text transform="translate(305.9,422.2) rotate(-90)" font-size="8.4" fill="#2a2a2a" text-anchor="middle" font-weight="bold" textLength="41.4" lengthAdjust="spacingAndGlyphs">iC3b (μg/ml)</text>
<line x1="332.4" y1="468.8" x2="332.4" y2="472" stroke="#111" stroke-width="1.3"/>
<line x1="349.98" y1="468.8" x2="349.98" y2="472" stroke="#111" stroke-width="1.3"/>
<line x1="367.56" y1="468.8" x2="367.56" y2="472" stroke="#111" stroke-width="1.3"/>
<line x1="385.14" y1="468.8" x2="385.14" y2="472" stroke="#111" stroke-width="1.3"/>
<line x1="402.72" y1="468.8" x2="402.72" y2="472" stroke="#111" stroke-width="1.3"/>
<line x1="420.3" y1="468.8" x2="420.3" y2="472" stroke="#111" stroke-width="1.3"/>
<line x1="437.88" y1="468.8" x2="437.88" y2="472" stroke="#111" stroke-width="1.3"/>
<line x1="455.46" y1="468.8" x2="455.46" y2="472" stroke="#111" stroke-width="1.3"/>
<line x1="473.04" y1="468.8" x2="473.04" y2="472" stroke="#111" stroke-width="1.3"/>
<text transform="translate(337.5,478.1) rotate(-45)" font-size="7.2" fill="#222" stroke="#222" stroke-width="0.25" text-anchor="end" textLength="4.4" lengthAdjust="spacingAndGlyphs">0</text>
<text transform="translate(355.08,478.1) rotate(-45)" font-size="7.2" fill="#222" stroke="#222" stroke-width="0.25" text-anchor="end" textLength="11.01" lengthAdjust="spacingAndGlyphs">0.1</text>
<text transform="translate(372.66,478.1) rotate(-45)" font-size="7.2" fill="#222" stroke="#222" stroke-width="0.25" text-anchor="end" textLength="4.4" lengthAdjust="spacingAndGlyphs">1</text>
<text transform="translate(390.24,478.1) rotate(-45)" font-size="7.2" fill="#222" stroke="#222" stroke-width="0.25" text-anchor="end" textLength="8.81" lengthAdjust="spacingAndGlyphs">10</text>
<text transform="translate(407.82,478.1) rotate(-45)" font-size="7.2" fill="#222" stroke="#222" stroke-width="0.25" text-anchor="end" textLength="8.81" lengthAdjust="spacingAndGlyphs">50</text>
<text transform="translate(425.4,478.1) rotate(-45)" font-size="7.2" fill="#222" stroke="#222" stroke-width="0.25" text-anchor="end" textLength="13.21" lengthAdjust="spacingAndGlyphs">100</text>
<text transform="translate(442.98,478.1) rotate(-45)" font-size="7.2" fill="#222" stroke="#222" stroke-width="0.25" text-anchor="end" textLength="13.21" lengthAdjust="spacingAndGlyphs">500</text>
<text transform="translate(460.56,478.1) rotate(-45)" font-size="7.2" fill="#222" stroke="#222" stroke-width="0.25" text-anchor="end" textLength="17.61" lengthAdjust="spacingAndGlyphs">1000</text>
<text transform="translate(478.14,478.1) rotate(-45)" font-size="7.2" fill="#222" stroke="#222" stroke-width="0.25" text-anchor="end" textLength="22.02" lengthAdjust="spacingAndGlyphs">10000</text>
<polyline points="332.4,466.8 349.98,466.8 367.56,466.8 385.14,466.5 402.72,459.5 420.3,449.9 437.88,429.2 455.46,457.2" fill="none" stroke="#2c4678" stroke-width="1.9" stroke-linejoin="round"/>
<line x1="332.4" y1="465" x2="332.4" y2="468.6" stroke="#2c4678" stroke-width="1.1"/>
<line x1="331.1" y1="465" x2="333.7" y2="465" stroke="#2c4678" stroke-width="1"/>
<line x1="331.1" y1="468.6" x2="333.7" y2="468.6" stroke="#2c4678" stroke-width="1"/>
<circle cx="332.4" cy="466.8" r="2.1" fill="#2c4678"/>
<line x1="349.98" y1="465" x2="349.98" y2="468.6" stroke="#2c4678" stroke-width="1.1"/>
<line x1="348.68" y1="465" x2="351.28" y2="465" stroke="#2c4678" stroke-width="1"/>
<line x1="348.68" y1="468.6" x2="351.28" y2="468.6" stroke="#2c4678" stroke-width="1"/>
<circle cx="349.98" cy="466.8" r="2.1" fill="#2c4678"/>
<line x1="367.56" y1="465" x2="367.56" y2="468.6" stroke="#2c4678" stroke-width="1.1"/>
<line x1="366.26" y1="465" x2="368.86" y2="465" stroke="#2c4678" stroke-width="1"/>
<line x1="366.26" y1="468.6" x2="368.86" y2="468.6" stroke="#2c4678" stroke-width="1"/>
<circle cx="367.56" cy="466.8" r="2.1" fill="#2c4678"/>
<line x1="385.14" y1="464.7" x2="385.14" y2="468.3" stroke="#2c4678" stroke-width="1.1"/>
<line x1="383.84" y1="464.7" x2="386.44" y2="464.7" stroke="#2c4678" stroke-width="1"/>
<line x1="383.84" y1="468.3" x2="386.44" y2="468.3" stroke="#2c4678" stroke-width="1"/>
<circle cx="385.14" cy="466.5" r="2.1" fill="#2c4678"/>
<line x1="402.72" y1="457.7" x2="402.72" y2="461.3" stroke="#2c4678" stroke-width="1.1"/>
<line x1="401.42" y1="457.7" x2="404.02" y2="457.7" stroke="#2c4678" stroke-width="1"/>
<line x1="401.42" y1="461.3" x2="404.02" y2="461.3" stroke="#2c4678" stroke-width="1"/>
<circle cx="402.72" cy="459.5" r="2.1" fill="#2c4678"/>
<line x1="420.3" y1="448.1" x2="420.3" y2="451.7" stroke="#2c4678" stroke-width="1.1"/>
<line x1="419" y1="448.1" x2="421.6" y2="448.1" stroke="#2c4678" stroke-width="1"/>
<line x1="419" y1="451.7" x2="421.6" y2="451.7" stroke="#2c4678" stroke-width="1"/>
<circle cx="420.3" cy="449.9" r="2.1" fill="#2c4678"/>
<line x1="437.88" y1="427.4" x2="437.88" y2="431" stroke="#2c4678" stroke-width="1.1"/>
<line x1="436.58" y1="427.4" x2="439.18" y2="427.4" stroke="#2c4678" stroke-width="1"/>
<line x1="436.58" y1="431" x2="439.18" y2="431" stroke="#2c4678" stroke-width="1"/>
<circle cx="437.88" cy="429.2" r="2.1" fill="#2c4678"/>
<line x1="455.46" y1="455.4" x2="455.46" y2="459" stroke="#2c4678" stroke-width="1.1"/>
<line x1="454.16" y1="455.4" x2="456.76" y2="455.4" stroke="#2c4678" stroke-width="1"/>
<line x1="454.16" y1="459" x2="456.76" y2="459" stroke="#2c4678" stroke-width="1"/>
<circle cx="455.46" cy="457.2" r="2.1" fill="#2c4678"/>
<polyline points="332.4,466.8 349.98,466.8 367.56,466.8 385.14,466.3 402.72,462 420.3,452 437.88,456.8 455.46,457.8 473.04,458.8" fill="none" stroke="#66a43e" stroke-width="1.9" stroke-linejoin="round"/>
<line x1="332.4" y1="464.8" x2="332.4" y2="468.8" stroke="#66a43e" stroke-width="1.1"/>
<line x1="331.1" y1="464.8" x2="333.7" y2="464.8" stroke="#66a43e" stroke-width="1"/>
<line x1="331.1" y1="468.8" x2="333.7" y2="468.8" stroke="#66a43e" stroke-width="1"/>
<rect x="330.7" y="465.1" width="3.4" height="3.4" fill="#66a43e"/>
<line x1="349.98" y1="464.8" x2="349.98" y2="468.8" stroke="#66a43e" stroke-width="1.1"/>
<line x1="348.68" y1="464.8" x2="351.28" y2="464.8" stroke="#66a43e" stroke-width="1"/>
<line x1="348.68" y1="468.8" x2="351.28" y2="468.8" stroke="#66a43e" stroke-width="1"/>
<rect x="348.28" y="465.1" width="3.4" height="3.4" fill="#66a43e"/>
<line x1="367.56" y1="464.8" x2="367.56" y2="468.8" stroke="#66a43e" stroke-width="1.1"/>
<line x1="366.26" y1="464.8" x2="368.86" y2="464.8" stroke="#66a43e" stroke-width="1"/>
<line x1="366.26" y1="468.8" x2="368.86" y2="468.8" stroke="#66a43e" stroke-width="1"/>
<rect x="365.86" y="465.1" width="3.4" height="3.4" fill="#66a43e"/>
<line x1="385.14" y1="464.3" x2="385.14" y2="468.3" stroke="#66a43e" stroke-width="1.1"/>
<line x1="383.84" y1="464.3" x2="386.44" y2="464.3" stroke="#66a43e" stroke-width="1"/>
<line x1="383.84" y1="468.3" x2="386.44" y2="468.3" stroke="#66a43e" stroke-width="1"/>
<rect x="383.44" y="464.6" width="3.4" height="3.4" fill="#66a43e"/>
<line x1="402.72" y1="460" x2="402.72" y2="464" stroke="#66a43e" stroke-width="1.1"/>
<line x1="401.42" y1="460" x2="404.02" y2="460" stroke="#66a43e" stroke-width="1"/>
<line x1="401.42" y1="464" x2="404.02" y2="464" stroke="#66a43e" stroke-width="1"/>
<rect x="401.02" y="460.3" width="3.4" height="3.4" fill="#66a43e"/>
<line x1="420.3" y1="450" x2="420.3" y2="454" stroke="#66a43e" stroke-width="1.1"/>
<line x1="419" y1="450" x2="421.6" y2="450" stroke="#66a43e" stroke-width="1"/>
<line x1="419" y1="454" x2="421.6" y2="454" stroke="#66a43e" stroke-width="1"/>
<rect x="418.6" y="450.3" width="3.4" height="3.4" fill="#66a43e"/>
<line x1="437.88" y1="454.8" x2="437.88" y2="458.8" stroke="#66a43e" stroke-width="1.1"/>
<line x1="436.58" y1="454.8" x2="439.18" y2="454.8" stroke="#66a43e" stroke-width="1"/>
<line x1="436.58" y1="458.8" x2="439.18" y2="458.8" stroke="#66a43e" stroke-width="1"/>
<rect x="436.18" y="455.1" width="3.4" height="3.4" fill="#66a43e"/>
<line x1="455.46" y1="455.8" x2="455.46" y2="459.8" stroke="#66a43e" stroke-width="1.1"/>
<line x1="454.16" y1="455.8" x2="456.76" y2="455.8" stroke="#66a43e" stroke-width="1"/>
<line x1="454.16" y1="459.8" x2="456.76" y2="459.8" stroke="#66a43e" stroke-width="1"/>
<rect x="453.76" y="456.1" width="3.4" height="3.4" fill="#66a43e"/>
<line x1="473.04" y1="456.8" x2="473.04" y2="460.8" stroke="#66a43e" stroke-width="1.1"/>
<line x1="471.74" y1="456.8" x2="474.34" y2="456.8" stroke="#66a43e" stroke-width="1"/>
<line x1="471.74" y1="460.8" x2="474.34" y2="460.8" stroke="#66a43e" stroke-width="1"/>
<rect x="471.34" y="457.1" width="3.4" height="3.4" fill="#66a43e"/>
<polyline points="332.4,466.8 349.98,466.8 367.56,466.8 385.14,453.7 402.72,436.6 420.3,395.4 437.88,414.2 455.46,444.7" fill="none" stroke="#9e0a36" stroke-width="1.9" stroke-linejoin="round"/>
<line x1="332.4" y1="465.2" x2="332.4" y2="468.4" stroke="#9e0a36" stroke-width="1.1"/>
<line x1="331.1" y1="465.2" x2="333.7" y2="465.2" stroke="#9e0a36" stroke-width="1"/>
<line x1="331.1" y1="468.4" x2="333.7" y2="468.4" stroke="#9e0a36" stroke-width="1"/>
<rect x="330.3" y="464.7" width="4.2" height="4.2" fill="#9e0a36"/>
<line x1="349.98" y1="465.2" x2="349.98" y2="468.4" stroke="#9e0a36" stroke-width="1.1"/>
<line x1="348.68" y1="465.2" x2="351.28" y2="465.2" stroke="#9e0a36" stroke-width="1"/>
<line x1="348.68" y1="468.4" x2="351.28" y2="468.4" stroke="#9e0a36" stroke-width="1"/>
<rect x="347.88" y="464.7" width="4.2" height="4.2" fill="#9e0a36"/>
<line x1="367.56" y1="465.2" x2="367.56" y2="468.4" stroke="#9e0a36" stroke-width="1.1"/>
<line x1="366.26" y1="465.2" x2="368.86" y2="465.2" stroke="#9e0a36" stroke-width="1"/>
<line x1="366.26" y1="468.4" x2="368.86" y2="468.4" stroke="#9e0a36" stroke-width="1"/>
<rect x="365.46" y="464.7" width="4.2" height="4.2" fill="#9e0a36"/>
<line x1="385.14" y1="452.1" x2="385.14" y2="455.3" stroke="#9e0a36" stroke-width="1.1"/>
<line x1="383.84" y1="452.1" x2="386.44" y2="452.1" stroke="#9e0a36" stroke-width="1"/>
<line x1="383.84" y1="455.3" x2="386.44" y2="455.3" stroke="#9e0a36" stroke-width="1"/>
<rect x="383.04" y="451.6" width="4.2" height="4.2" fill="#9e0a36"/>
<line x1="402.72" y1="435" x2="402.72" y2="438.2" stroke="#9e0a36" stroke-width="1.1"/>
<line x1="401.42" y1="435" x2="404.02" y2="435" stroke="#9e0a36" stroke-width="1"/>
<line x1="401.42" y1="438.2" x2="404.02" y2="438.2" stroke="#9e0a36" stroke-width="1"/>
<rect x="400.62" y="434.5" width="4.2" height="4.2" fill="#9e0a36"/>
<line x1="420.3" y1="393.8" x2="420.3" y2="397" stroke="#9e0a36" stroke-width="1.1"/>
<line x1="419" y1="393.8" x2="421.6" y2="393.8" stroke="#9e0a36" stroke-width="1"/>
<line x1="419" y1="397" x2="421.6" y2="397" stroke="#9e0a36" stroke-width="1"/>
<rect x="418.2" y="393.3" width="4.2" height="4.2" fill="#9e0a36"/>
<line x1="437.88" y1="412.6" x2="437.88" y2="415.8" stroke="#9e0a36" stroke-width="1.1"/>
<line x1="436.58" y1="412.6" x2="439.18" y2="412.6" stroke="#9e0a36" stroke-width="1"/>
<line x1="436.58" y1="415.8" x2="439.18" y2="415.8" stroke="#9e0a36" stroke-width="1"/>
<rect x="435.78" y="412.1" width="4.2" height="4.2" fill="#9e0a36"/>
<line x1="455.46" y1="443.1" x2="455.46" y2="446.3" stroke="#9e0a36" stroke-width="1.1"/>
<line x1="454.16" y1="443.1" x2="456.76" y2="443.1" stroke="#9e0a36" stroke-width="1"/>
<line x1="454.16" y1="446.3" x2="456.76" y2="446.3" stroke="#9e0a36" stroke-width="1"/>
<rect x="453.36" y="442.6" width="4.2" height="4.2" fill="#9e0a36"/>
<circle cx="381.15" cy="446.8" r="1.2" fill="#151515"/>
<circle cx="385" cy="446.8" r="1.2" fill="#151515"/>
<circle cx="388.85" cy="446.8" r="1.2" fill="#151515"/>
<circle cx="398.75" cy="428.3" r="1.2" fill="#151515"/>
<circle cx="402.6" cy="428.3" r="1.2" fill="#151515"/>
<circle cx="406.45" cy="428.3" r="1.2" fill="#151515"/>
<circle cx="400.68" cy="450.5" r="1.2" fill="#151515"/>
<circle cx="404.53" cy="450.5" r="1.2" fill="#151515"/>
<circle cx="400.68" cy="454.3" r="1.2" fill="#151515"/>
<circle cx="404.53" cy="454.3" r="1.2" fill="#151515"/>
<circle cx="416.35" cy="388.7" r="1.2" fill="#151515"/>
<circle cx="420.2" cy="388.7" r="1.2" fill="#151515"/>
<circle cx="424.05" cy="388.7" r="1.2" fill="#151515"/>
<circle cx="416.35" cy="438.9" r="1.2" fill="#151515"/>
<circle cx="420.2" cy="438.9" r="1.2" fill="#151515"/>
<circle cx="424.05" cy="438.9" r="1.2" fill="#151515"/>
<circle cx="416.35" cy="443.3" r="1.2" fill="#151515"/>
<circle cx="420.2" cy="443.3" r="1.2" fill="#151515"/>
<circle cx="424.05" cy="443.3" r="1.2" fill="#151515"/>
<circle cx="433.65" cy="409" r="1.2" fill="#151515"/>
<circle cx="437.5" cy="409" r="1.2" fill="#151515"/>
<circle cx="441.35" cy="409" r="1.2" fill="#151515"/>
<circle cx="433.65" cy="424" r="1.2" fill="#151515"/>
<circle cx="437.5" cy="424" r="1.2" fill="#151515"/>
<circle cx="441.35" cy="424" r="1.2" fill="#151515"/>
<circle cx="435.57" cy="451" r="1.2" fill="#151515"/>
<circle cx="439.43" cy="451" r="1.2" fill="#151515"/>
<circle cx="451.45" cy="438.9" r="1.2" fill="#151515"/>
<circle cx="455.3" cy="438.9" r="1.2" fill="#151515"/>
<circle cx="459.15" cy="438.9" r="1.2" fill="#151515"/>
<circle cx="453.38" cy="450.5" r="1.2" fill="#151515"/>
<circle cx="457.23" cy="450.5" r="1.2" fill="#151515"/>
<circle cx="453.38" cy="453.6" r="1.2" fill="#151515"/>
<circle cx="457.23" cy="453.6" r="1.2" fill="#151515"/>
<circle cx="470.77" cy="453" r="1.2" fill="#151515"/>
<circle cx="474.62" cy="453" r="1.2" fill="#151515"/>
<text x="404.6" y="508.4" font-size="8.8" fill="#333" text-anchor="middle" font-weight="bold" textLength="20.3" lengthAdjust="spacingAndGlyphs">μg/ml</text>
<line x1="350.3" y1="389.5" x2="361.6" y2="389.5" stroke="#ab0530" stroke-width="1.7"/>
<rect x="354" y="387.5" width="4" height="4" fill="#ab0530"/>
<text x="365.3" y="392.3" font-size="7.9" fill="#222" textLength="30.6" lengthAdjust="spacingAndGlyphs">GL-2045</text>
<line x1="350.3" y1="397.4" x2="361.6" y2="397.4" stroke="#2f4a82" stroke-width="1.7"/>
<circle cx="356" cy="397.4" r="2" fill="#fff" stroke="#2f4a82" stroke-width="1.3"/>
<text x="365.3" y="400.2" font-size="7.9" fill="#222" textLength="22.5" lengthAdjust="spacingAndGlyphs">HAGG</text>
<line x1="350.3" y1="405.3" x2="361.6" y2="405.3" stroke="#6aa83e" stroke-width="1.7"/>
<polygon points="353.8,406.9 358.2,406.9 356,403.1" fill="#6aa83e"/>
<text x="365.3" y="408.1" font-size="7.9" fill="#222" textLength="13.8" lengthAdjust="spacingAndGlyphs">IVIG</text>
</svg>
</body></html>
